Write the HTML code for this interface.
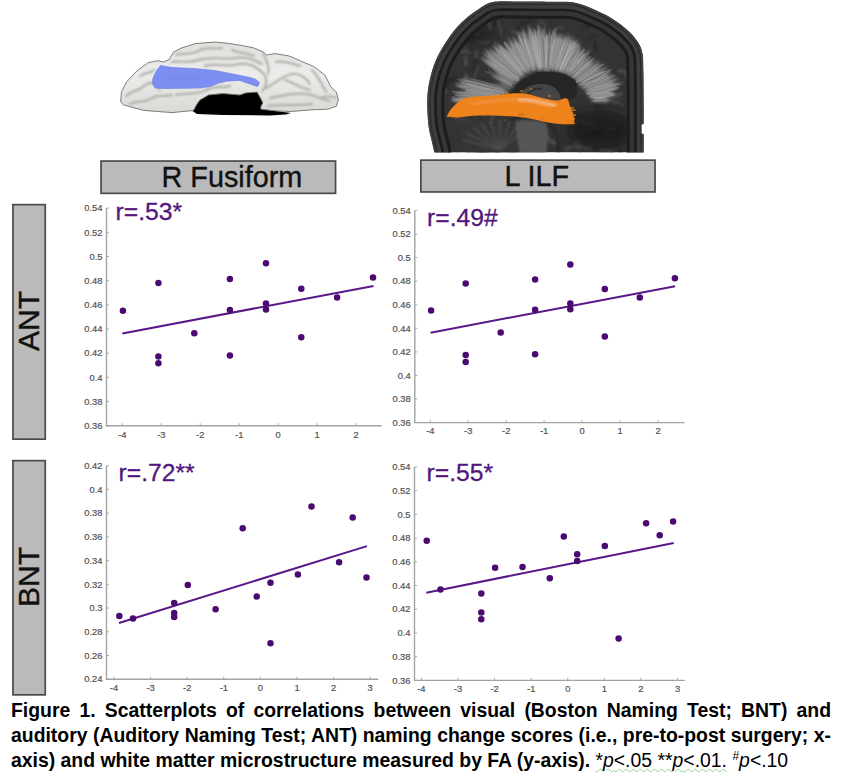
<!DOCTYPE html>
<html><head><meta charset="utf-8">
<style>
html,body{margin:0;padding:0;background:#fff;}
body{width:841px;height:781px;position:relative;overflow:hidden;font-family:"Liberation Sans",sans-serif;}
.box{position:absolute;box-sizing:border-box;background:#bababa;border:2px solid #474747;}
.lab{position:absolute;font-size:29px;color:#111;white-space:nowrap;line-height:1;}
svg{position:absolute;left:0;top:0;}
.yl{font-size:9.4px;fill:#505050;stroke:#505050;stroke-width:0.18px;text-anchor:end;font-family:"Liberation Sans",sans-serif;}
.xl{font-size:9.4px;fill:#505050;stroke:#505050;stroke-width:0.18px;text-anchor:middle;font-family:"Liberation Sans",sans-serif;}
.rl{font-size:24.7px;fill:#52167d;stroke:#52167d;stroke-width:0.3px;font-family:"Liberation Sans",sans-serif;}
.cap{position:absolute;left:11px;width:820px;font-size:19.4px;font-weight:bold;color:#000;line-height:25px;white-space:nowrap;}
.j{text-align:justify;text-align-last:justify;}
.n{font-weight:normal;}
.wavy{text-decoration:underline wavy #8fcf8f;text-decoration-thickness:1px;text-underline-offset:1px;}
</style></head><body>
<svg width="841" height="781" viewBox="0 0 841 781" style="position:absolute;left:0;top:0">
<defs><filter id="bl1" x="-5%" y="-5%" width="110%" height="110%"><feGaussianBlur stdDeviation="0.45"/></filter><filter id="bl2" x="-10%" y="-10%" width="120%" height="120%"><feGaussianBlur stdDeviation="0.9"/></filter><linearGradient id="bg1" x1="0" y1="0" x2="0" y2="1"><stop offset="0" stop-color="#dfe0dc"/><stop offset="0.45" stop-color="#ecedea"/><stop offset="1" stop-color="#d9dad6"/></linearGradient></defs>
<g filter="url(#bl1)">
<path d="M192.5,111 L196,103 L199,98 L208,93 L222.8,91.6 L240,93 L245.7,90.9 L258,90.1 L262,96.1 L264.5,102.9 L262.5,107 L268.5,110 L291,113 L286,114.5 L270,115.5 L222.8,115 L197,114 Z" fill="#050505"/>
<path d="M120.7,102.1 L121.4,92.1 L126.4,82.1 L136.4,71.4 L147.8,62.8 L157.8,60.7 L163.5,62 L169.2,59.5 L173.5,52.1 L182,47.8 L195,43.6 L215,42.1 L225,43 L239.3,45 L253.5,47.8 L263.5,52.1 L266.4,55 L275,53.6 L289.2,56 L300.6,61 L313.5,66.4 L324.9,75 L330.6,86.4 L336.3,92.1 L338.4,99.2 L336.3,106.3 L327.7,109.2 L310.6,109.9 L291,111.5 L275,110.8 L261,109.2 L260.7,107 L262.8,102.9 L260,97.1 L257,92.1 L245.7,92.9 L240,95 L222.8,93.6 L208.5,95 L200,100 L197,104 L193.5,110.5 L172,112.6 L143.5,110.4 L123.6,104.9 Z" fill="url(#bg1)" stroke="#6f716d" stroke-width="0.9"/>
<g filter="url(#bl2)">
<path d="M126,96 C132,90 138,92 144,86 C150,80 156,84 160,90" fill="none" stroke="#a9aba7" stroke-width="2" stroke-linecap="round"/>
<path d="M130,104 C138,100 146,103 152,98 C158,94 166,97 172,95" fill="none" stroke="#a9aba7" stroke-width="2" stroke-linecap="round"/>
<path d="M140,76 C146,72 150,74 154,70" fill="none" stroke="#a9aba7" stroke-width="2" stroke-linecap="round"/>
<path d="M176,95 C186,92 196,96 206,90 C214,86 222,88 230,86" fill="none" stroke="#a9aba7" stroke-width="2" stroke-linecap="round"/>
<path d="M176,55 C184,52 192,56 200,50 C206,46 214,50 222,48" fill="none" stroke="#a9aba7" stroke-width="2" stroke-linecap="round"/>
<path d="M172,62 C180,60 188,64 198,60 C210,56 224,60 236,58 C246,56 254,60 262,64" fill="none" stroke="#a9aba7" stroke-width="2" stroke-linecap="round"/>
<path d="M205,66 C214,62 226,68 240,64 C250,62 258,68 264,74 C268,80 266,88 262,91" fill="none" stroke="#a9aba7" stroke-width="2" stroke-linecap="round"/>
<path d="M263,53 C266,60 270,66 268,74" fill="none" stroke="#a9aba7" stroke-width="2" stroke-linecap="round"/>
<path d="M276,62 C284,60 292,64 300,66" fill="none" stroke="#a9aba7" stroke-width="2" stroke-linecap="round"/>
<path d="M266,88 C274,84 282,76 292,74 C300,73 306,78 310,84" fill="none" stroke="#a9aba7" stroke-width="2" stroke-linecap="round"/>
<path d="M270,98 C282,96 292,92 306,94 C316,95 322,100 330,101" fill="none" stroke="#a9aba7" stroke-width="2" stroke-linecap="round"/>
<path d="M285,80 C292,82 300,88 310,90" fill="none" stroke="#a9aba7" stroke-width="2" stroke-linecap="round"/>
<path d="M312,70 C318,76 322,84 326,92" fill="none" stroke="#a9aba7" stroke-width="2" stroke-linecap="round"/>
<path d="M320,98 C326,96 332,96 336,98" fill="none" stroke="#a9aba7" stroke-width="2" stroke-linecap="round"/>
<path d="M268,106 C282,104 296,106 312,104" fill="none" stroke="#a9aba7" stroke-width="2" stroke-linecap="round"/>
<path d="M196,80 C206,82 214,78 222,82" fill="none" stroke="#a9aba7" stroke-width="2" stroke-linecap="round"/>
<path d="M232,50 C240,54 246,52 254,56" fill="none" stroke="#a9aba7" stroke-width="2" stroke-linecap="round"/>
</g>
<path d="M152.1,82.5 L153.5,76.4 L157,70 L160.7,65.5 L172,67.5 L193.5,68.5 L215,70.5 L230,73.5 L240,75.5 L250,77.5 L256,79.5 L259.5,83 L257.5,86.5 L250,84 L240,80.5 L228,81 L220,82.5 L210,86.5 L200,88 L180,88.3 L165,88.5 L155,88 Z" fill="#7d8ef3" stroke="#6f7fe0" stroke-width="0.7"/>
<path d="M162,80 C175,78 190,80 205,78" fill="none" stroke="#7282e6" stroke-width="1.2" filter="url(#bl2)"/>
</g></svg>
<svg width="841" height="781" viewBox="0 0 841 781" style="position:absolute;left:0;top:0">
<defs><clipPath id="hc"><path d="M434.3,152.6 C434.0,151.1 433.2,147.7 432.3,143.4 C431.4,139.1 429.5,133.6 428.6,127.0 C427.8,120.4 427.2,111.2 427.2,104.0 C427.2,96.8 427.4,91.2 428.8,84.0 C430.2,76.8 432.5,68.2 435.5,61.0 C438.5,53.8 442.4,47.3 446.6,41.0 C450.9,34.7 455.8,28.2 461.0,23.0 C466.2,17.8 472.7,13.0 478.0,9.5 C483.3,6.0 486.0,3.3 493.0,2.0 C500.0,0.7 509.7,1.6 520.0,1.6 C530.3,1.6 546.0,1.7 555.0,1.8 C564.0,1.9 567.9,1.4 574.0,2.5 C580.1,3.6 585.1,5.5 591.4,8.2 C597.7,10.8 605.9,14.6 612.0,18.4 C618.1,22.1 623.9,26.6 628.3,30.7 C632.7,34.8 636.1,39.1 638.5,43.0 C640.9,46.9 641.8,49.5 642.6,54.0 C643.4,58.5 643.2,62.3 643.4,70.0 C643.6,77.7 643.7,95.0 643.7,100.0 L643.7,124 L641.5,124.5 L641.5,133.5 L643.7,134 L643.7,152.6 Z"/></clipPath><filter id="mb" x="-10%" y="-10%" width="120%" height="120%"><feGaussianBlur stdDeviation="0.5"/></filter><filter id="mb1" x="-10%" y="-10%" width="120%" height="120%"><feGaussianBlur stdDeviation="0.9"/></filter><filter id="mbig" x="-50%" y="-50%" width="200%" height="200%"><feGaussianBlur stdDeviation="6"/></filter><filter id="mb2" x="-10%" y="-10%" width="120%" height="120%"><feGaussianBlur stdDeviation="1.6"/></filter></defs>
<g clip-path="url(#hc)">
<path d="M434.3,152.6 C434.0,151.1 433.2,147.7 432.3,143.4 C431.4,139.1 429.5,133.6 428.6,127.0 C427.8,120.4 427.2,111.2 427.2,104.0 C427.2,96.8 427.4,91.2 428.8,84.0 C430.2,76.8 432.5,68.2 435.5,61.0 C438.5,53.8 442.4,47.3 446.6,41.0 C450.9,34.7 455.8,28.2 461.0,23.0 C466.2,17.8 472.7,13.0 478.0,9.5 C483.3,6.0 486.0,3.3 493.0,2.0 C500.0,0.7 509.7,1.6 520.0,1.6 C530.3,1.6 546.0,1.7 555.0,1.8 C564.0,1.9 567.9,1.4 574.0,2.5 C580.1,3.6 585.1,5.5 591.4,8.2 C597.7,10.8 605.9,14.6 612.0,18.4 C618.1,22.1 623.9,26.6 628.3,30.7 C632.7,34.8 636.1,39.1 638.5,43.0 C640.9,46.9 641.8,49.5 642.6,54.0 C643.4,58.5 643.2,62.3 643.4,70.0 C643.6,77.7 643.7,95.0 643.7,100.0 L643.7,124 L641.5,124.5 L641.5,133.5 L643.7,134 L643.7,152.6 Z" fill="#333333"/>
<g filter="url(#mb1)"><path d="M529.4,94.7 Q530.3,103.1 531.0,109.8" stroke="#262626" stroke-width="3.1" fill="none" stroke-linecap="round"/><path d="M534.1,102.1 Q531.2,106.4 535.4,109.9" stroke="#222222" stroke-width="2.7" fill="none" stroke-linecap="round"/><path d="M518.0,80.1 Q516.2,89.3 511.9,92.0" stroke="#222222" stroke-width="1.6" fill="none" stroke-linecap="round"/><path d="M476.4,51.1 Q476.2,57.7 477.1,57.4" stroke="#505050" stroke-width="2.0" fill="none" stroke-linecap="round"/><path d="M497.4,18.6 Q494.9,22.2 494.2,24.7" stroke="#222222" stroke-width="2.9" fill="none" stroke-linecap="round"/><path d="M501.7,49.5 Q508.7,49.4 510.4,51.4" stroke="#2a2a2a" stroke-width="2.3" fill="none" stroke-linecap="round"/><path d="M631.5,134.1 Q638.0,135.6 636.3,137.8" stroke="#4a4a4a" stroke-width="2.3" fill="none" stroke-linecap="round"/><path d="M552.4,45.2 Q553.6,45.9 558.6,56.3" stroke="#4a4a4a" stroke-width="3.0" fill="none" stroke-linecap="round"/><path d="M461.8,51.8 Q468.2,49.2 468.7,53.1" stroke="#505050" stroke-width="1.9" fill="none" stroke-linecap="round"/><path d="M540.8,153.0 Q541.3,158.6 544.2,166.2" stroke="#262626" stroke-width="1.5" fill="none" stroke-linecap="round"/><path d="M612.6,151.6 Q601.8,148.5 600.7,151.6" stroke="#505050" stroke-width="2.8" fill="none" stroke-linecap="round"/><path d="M458.3,153.5 Q463.8,154.8 463.9,159.4" stroke="#2a2a2a" stroke-width="2.3" fill="none" stroke-linecap="round"/><path d="M453.0,46.6 Q457.9,48.1 465.4,47.2" stroke="#262626" stroke-width="3.4" fill="none" stroke-linecap="round"/><path d="M535.7,96.7 Q538.4,104.8 548.0,104.7" stroke="#505050" stroke-width="2.0" fill="none" stroke-linecap="round"/><path d="M476.3,119.3 Q487.1,127.6 488.9,128.2" stroke="#505050" stroke-width="1.7" fill="none" stroke-linecap="round"/><path d="M447.6,32.9 Q453.8,35.9 455.3,40.9" stroke="#4a4a4a" stroke-width="3.1" fill="none" stroke-linecap="round"/><path d="M558.5,58.2 Q551.7,58.5 553.5,64.2" stroke="#505050" stroke-width="2.8" fill="none" stroke-linecap="round"/><path d="M562.4,28.2 Q561.0,24.9 554.6,30.3" stroke="#4a4a4a" stroke-width="2.4" fill="none" stroke-linecap="round"/><path d="M450.2,42.1 Q445.4,45.5 448.0,51.6" stroke="#4a4a4a" stroke-width="3.5" fill="none" stroke-linecap="round"/><path d="M570.7,112.7 Q571.4,110.4 581.4,117.8" stroke="#2a2a2a" stroke-width="2.9" fill="none" stroke-linecap="round"/><path d="M632.5,20.9 Q635.1,25.3 633.2,33.3" stroke="#222222" stroke-width="1.7" fill="none" stroke-linecap="round"/><path d="M548.3,119.0 Q545.3,127.4 538.1,130.0" stroke="#2a2a2a" stroke-width="2.2" fill="none" stroke-linecap="round"/><path d="M576.4,141.4 Q581.2,152.2 580.2,155.6" stroke="#505050" stroke-width="1.5" fill="none" stroke-linecap="round"/><path d="M571.8,69.9 Q570.7,66.8 577.7,71.3" stroke="#2a2a2a" stroke-width="3.3" fill="none" stroke-linecap="round"/><path d="M585.1,71.2 Q582.8,81.1 581.7,84.1" stroke="#222222" stroke-width="2.5" fill="none" stroke-linecap="round"/><path d="M541.9,60.5 Q549.9,56.9 548.8,61.0" stroke="#505050" stroke-width="2.8" fill="none" stroke-linecap="round"/><path d="M536.2,140.8 Q541.7,143.1 544.9,145.0" stroke="#2a2a2a" stroke-width="2.8" fill="none" stroke-linecap="round"/><path d="M527.3,140.2 Q521.9,143.5 522.7,148.2" stroke="#262626" stroke-width="3.3" fill="none" stroke-linecap="round"/><path d="M515.7,97.9 Q519.8,103.2 524.0,101.7" stroke="#222222" stroke-width="2.9" fill="none" stroke-linecap="round"/><path d="M629.9,55.9 Q628.2,56.9 631.1,63.5" stroke="#4a4a4a" stroke-width="2.3" fill="none" stroke-linecap="round"/><path d="M543.0,110.1 Q538.5,111.4 531.5,116.4" stroke="#222222" stroke-width="2.1" fill="none" stroke-linecap="round"/><path d="M560.7,110.9 Q564.2,115.5 564.6,118.8" stroke="#262626" stroke-width="2.3" fill="none" stroke-linecap="round"/><path d="M476.4,123.4 Q476.0,131.0 469.7,128.9" stroke="#222222" stroke-width="2.4" fill="none" stroke-linecap="round"/><path d="M565.3,107.7 Q560.1,105.7 551.3,109.6" stroke="#4a4a4a" stroke-width="2.0" fill="none" stroke-linecap="round"/><path d="M582.3,121.4 Q585.2,124.9 593.5,122.7" stroke="#505050" stroke-width="2.9" fill="none" stroke-linecap="round"/><path d="M543.1,102.2 Q548.3,112.6 547.6,115.0" stroke="#222222" stroke-width="2.3" fill="none" stroke-linecap="round"/><path d="M618.3,71.2 Q626.5,69.3 626.9,77.2" stroke="#505050" stroke-width="2.6" fill="none" stroke-linecap="round"/><path d="M615.6,127.2 Q618.0,131.9 617.4,142.5" stroke="#222222" stroke-width="1.9" fill="none" stroke-linecap="round"/><path d="M619.8,152.3 Q621.8,158.4 618.0,168.0" stroke="#222222" stroke-width="2.2" fill="none" stroke-linecap="round"/><path d="M454.7,78.4 Q450.3,77.5 446.1,86.1" stroke="#222222" stroke-width="2.4" fill="none" stroke-linecap="round"/><path d="M445.1,91.0 Q438.6,97.7 432.7,94.4" stroke="#505050" stroke-width="3.2" fill="none" stroke-linecap="round"/><path d="M577.3,147.6 Q567.7,145.7 566.5,149.3" stroke="#505050" stroke-width="2.6" fill="none" stroke-linecap="round"/><path d="M605.9,94.9 Q609.8,96.3 605.6,102.6" stroke="#4a4a4a" stroke-width="3.4" fill="none" stroke-linecap="round"/><path d="M613.8,101.5 Q618.3,101.2 621.9,105.4" stroke="#4a4a4a" stroke-width="1.9" fill="none" stroke-linecap="round"/><path d="M546.3,86.9 Q556.9,87.6 558.3,88.0" stroke="#4a4a4a" stroke-width="2.6" fill="none" stroke-linecap="round"/><path d="M637.9,34.7 Q645.2,36.0 643.9,38.2" stroke="#4a4a4a" stroke-width="2.0" fill="none" stroke-linecap="round"/><path d="M533.6,35.4 Q533.3,38.0 524.9,41.1" stroke="#2a2a2a" stroke-width="1.7" fill="none" stroke-linecap="round"/><path d="M522.7,22.0 Q525.0,20.8 517.6,29.0" stroke="#262626" stroke-width="2.0" fill="none" stroke-linecap="round"/><path d="M576.8,62.1 Q571.1,68.9 573.3,71.0" stroke="#222222" stroke-width="3.2" fill="none" stroke-linecap="round"/><path d="M564.0,116.3 Q553.1,120.1 551.9,121.2" stroke="#505050" stroke-width="2.7" fill="none" stroke-linecap="round"/><path d="M546.7,136.3 Q548.3,140.4 555.5,143.5" stroke="#505050" stroke-width="3.2" fill="none" stroke-linecap="round"/><path d="M485.0,119.5 Q476.4,119.8 471.5,123.7" stroke="#262626" stroke-width="1.9" fill="none" stroke-linecap="round"/><path d="M639.7,139.6 Q644.6,139.7 645.0,144.6" stroke="#222222" stroke-width="2.4" fill="none" stroke-linecap="round"/><path d="M628.1,92.4 Q634.7,99.3 638.7,100.1" stroke="#222222" stroke-width="1.9" fill="none" stroke-linecap="round"/><path d="M575.8,142.9 Q583.2,148.2 590.5,148.4" stroke="#505050" stroke-width="3.5" fill="none" stroke-linecap="round"/><path d="M606.3,128.0 Q614.3,129.5 617.0,128.8" stroke="#505050" stroke-width="2.5" fill="none" stroke-linecap="round"/><path d="M476.3,33.7 Q477.5,37.3 483.1,37.4" stroke="#505050" stroke-width="1.6" fill="none" stroke-linecap="round"/><path d="M630.2,81.3 Q633.4,87.3 637.3,93.0" stroke="#4a4a4a" stroke-width="1.9" fill="none" stroke-linecap="round"/><path d="M513.4,104.9 Q515.0,105.3 518.6,108.6" stroke="#2a2a2a" stroke-width="2.3" fill="none" stroke-linecap="round"/><path d="M477.4,40.6 Q486.9,43.9 488.5,41.2" stroke="#4a4a4a" stroke-width="2.6" fill="none" stroke-linecap="round"/><path d="M476.6,98.1 Q470.9,97.4 469.7,104.5" stroke="#262626" stroke-width="3.1" fill="none" stroke-linecap="round"/><path d="M519.9,140.8 Q518.4,149.5 511.4,152.9" stroke="#4a4a4a" stroke-width="1.9" fill="none" stroke-linecap="round"/><path d="M475.3,127.2 Q483.5,133.5 483.9,130.0" stroke="#505050" stroke-width="1.6" fill="none" stroke-linecap="round"/><path d="M493.1,149.7 Q495.7,149.4 500.1,155.4" stroke="#222222" stroke-width="2.3" fill="none" stroke-linecap="round"/><path d="M640.0,106.0 Q640.0,105.6 630.4,114.8" stroke="#505050" stroke-width="1.7" fill="none" stroke-linecap="round"/><path d="M485.9,78.8 Q483.3,77.7 477.8,86.3" stroke="#2a2a2a" stroke-width="2.0" fill="none" stroke-linecap="round"/><path d="M620.9,93.4 Q616.1,98.9 609.9,94.5" stroke="#4a4a4a" stroke-width="3.1" fill="none" stroke-linecap="round"/><path d="M453.4,99.9 Q464.4,97.4 466.8,101.8" stroke="#4a4a4a" stroke-width="3.4" fill="none" stroke-linecap="round"/><path d="M610.8,92.2 Q612.1,95.9 613.5,103.9" stroke="#4a4a4a" stroke-width="2.7" fill="none" stroke-linecap="round"/><path d="M511.8,57.1 Q508.5,65.5 509.5,69.5" stroke="#2a2a2a" stroke-width="1.6" fill="none" stroke-linecap="round"/><path d="M594.0,98.3 Q597.6,99.7 597.5,110.1" stroke="#2a2a2a" stroke-width="3.0" fill="none" stroke-linecap="round"/><path d="M448.1,153.5 Q459.7,154.5 463.2,157.0" stroke="#4a4a4a" stroke-width="2.0" fill="none" stroke-linecap="round"/><path d="M590.6,24.2 Q591.8,22.6 584.8,28.1" stroke="#262626" stroke-width="2.7" fill="none" stroke-linecap="round"/><path d="M461.2,103.5 Q461.0,107.0 469.7,109.8" stroke="#222222" stroke-width="2.2" fill="none" stroke-linecap="round"/><path d="M466.2,75.1 Q465.5,79.2 461.1,86.0" stroke="#505050" stroke-width="3.1" fill="none" stroke-linecap="round"/><path d="M465.7,57.7 Q465.9,59.5 466.1,65.0" stroke="#505050" stroke-width="2.7" fill="none" stroke-linecap="round"/><path d="M510.6,55.2 Q510.2,62.8 508.0,67.8" stroke="#262626" stroke-width="1.9" fill="none" stroke-linecap="round"/><path d="M488.3,152.2 Q476.6,150.6 474.2,157.9" stroke="#2a2a2a" stroke-width="2.0" fill="none" stroke-linecap="round"/><path d="M443.4,23.2 Q448.6,30.5 448.7,29.5" stroke="#262626" stroke-width="2.6" fill="none" stroke-linecap="round"/><path d="M565.5,69.1 Q568.2,74.9 574.0,75.8" stroke="#222222" stroke-width="3.1" fill="none" stroke-linecap="round"/><path d="M528.4,130.6 Q522.4,137.9 517.6,140.2" stroke="#4a4a4a" stroke-width="3.1" fill="none" stroke-linecap="round"/><path d="M512.5,107.6 Q517.2,116.8 520.8,121.1" stroke="#262626" stroke-width="2.4" fill="none" stroke-linecap="round"/><path d="M512.6,31.3 Q515.6,33.7 526.9,34.9" stroke="#4a4a4a" stroke-width="3.1" fill="none" stroke-linecap="round"/><path d="M531.6,130.8 Q537.4,134.4 535.1,135.9" stroke="#2a2a2a" stroke-width="2.5" fill="none" stroke-linecap="round"/><path d="M592.4,62.9 Q599.7,65.9 603.8,72.3" stroke="#222222" stroke-width="2.1" fill="none" stroke-linecap="round"/><path d="M527.1,99.5 Q520.7,106.0 518.7,112.0" stroke="#2a2a2a" stroke-width="2.4" fill="none" stroke-linecap="round"/><path d="M482.7,150.6 Q478.2,160.5 482.0,163.9" stroke="#222222" stroke-width="2.2" fill="none" stroke-linecap="round"/><path d="M517.9,71.1 Q520.1,75.4 516.3,78.9" stroke="#505050" stroke-width="2.6" fill="none" stroke-linecap="round"/><path d="M473.7,122.0 Q473.6,127.9 483.1,133.4" stroke="#505050" stroke-width="1.8" fill="none" stroke-linecap="round"/><path d="M497.8,21.1 Q500.3,26.1 501.2,35.1" stroke="#505050" stroke-width="1.7" fill="none" stroke-linecap="round"/><path d="M454.5,119.0 Q463.1,117.4 469.0,122.9" stroke="#4a4a4a" stroke-width="2.0" fill="none" stroke-linecap="round"/><path d="M482.5,122.9 Q477.3,125.0 474.2,130.4" stroke="#2a2a2a" stroke-width="2.8" fill="none" stroke-linecap="round"/><path d="M537.7,91.6 Q537.9,96.0 529.7,102.1" stroke="#2a2a2a" stroke-width="3.2" fill="none" stroke-linecap="round"/><path d="M600.8,132.2 Q594.8,133.5 586.0,134.2" stroke="#222222" stroke-width="3.1" fill="none" stroke-linecap="round"/><path d="M523.2,75.6 Q525.5,77.1 518.0,81.0" stroke="#262626" stroke-width="2.1" fill="none" stroke-linecap="round"/><path d="M516.6,90.5 Q512.3,94.3 508.5,93.5" stroke="#2a2a2a" stroke-width="2.8" fill="none" stroke-linecap="round"/><path d="M594.7,42.6 Q596.0,50.0 595.6,49.2" stroke="#222222" stroke-width="2.1" fill="none" stroke-linecap="round"/><path d="M477.9,67.2 Q475.8,73.0 474.2,78.5" stroke="#4a4a4a" stroke-width="1.9" fill="none" stroke-linecap="round"/><path d="M494.8,41.6 Q499.0,50.4 502.3,52.9" stroke="#4a4a4a" stroke-width="3.2" fill="none" stroke-linecap="round"/><path d="M535.9,73.2 Q534.9,75.9 528.4,86.8" stroke="#262626" stroke-width="2.3" fill="none" stroke-linecap="round"/><path d="M481.9,36.4 Q477.9,39.7 468.0,37.5" stroke="#222222" stroke-width="2.8" fill="none" stroke-linecap="round"/><path d="M486.0,19.5 Q491.1,26.6 490.2,29.4" stroke="#505050" stroke-width="3.2" fill="none" stroke-linecap="round"/><path d="M522.0,123.8 Q521.5,121.1 514.8,125.9" stroke="#505050" stroke-width="2.0" fill="none" stroke-linecap="round"/><path d="M546.0,38.6 Q556.1,42.1 559.7,38.7" stroke="#262626" stroke-width="1.7" fill="none" stroke-linecap="round"/><path d="M492.5,116.2 Q492.4,124.2 493.0,123.1" stroke="#505050" stroke-width="2.6" fill="none" stroke-linecap="round"/><path d="M540.2,20.6 Q545.3,25.7 546.7,25.1" stroke="#4a4a4a" stroke-width="1.9" fill="none" stroke-linecap="round"/><path d="M547.8,90.0 Q542.6,90.0 541.2,93.8" stroke="#222222" stroke-width="2.6" fill="none" stroke-linecap="round"/><path d="M639.4,109.4 Q639.1,111.8 645.9,110.9" stroke="#4a4a4a" stroke-width="3.0" fill="none" stroke-linecap="round"/><path d="M596.5,34.7 Q593.8,36.6 586.9,39.0" stroke="#2a2a2a" stroke-width="2.6" fill="none" stroke-linecap="round"/><path d="M530.5,19.4 Q521.2,25.3 517.7,28.8" stroke="#2a2a2a" stroke-width="2.8" fill="none" stroke-linecap="round"/><path d="M627.4,120.7 Q622.3,122.0 616.2,131.5" stroke="#262626" stroke-width="1.9" fill="none" stroke-linecap="round"/><path d="M585.8,63.1 Q586.5,69.0 582.7,78.3" stroke="#4a4a4a" stroke-width="1.7" fill="none" stroke-linecap="round"/><path d="M466.4,30.9 Q459.4,35.0 458.7,41.1" stroke="#4a4a4a" stroke-width="2.7" fill="none" stroke-linecap="round"/><path d="M456.2,49.0 Q458.8,46.2 463.2,51.9" stroke="#4a4a4a" stroke-width="3.4" fill="none" stroke-linecap="round"/><path d="M466.1,46.1 Q463.8,53.4 461.9,52.3" stroke="#505050" stroke-width="1.5" fill="none" stroke-linecap="round"/><path d="M518.9,113.9 Q514.3,119.8 506.5,123.6" stroke="#222222" stroke-width="2.0" fill="none" stroke-linecap="round"/><path d="M476.1,60.0 Q472.2,63.5 474.3,70.3" stroke="#2a2a2a" stroke-width="3.2" fill="none" stroke-linecap="round"/><path d="M561.5,39.7 Q555.5,40.3 548.5,43.8" stroke="#505050" stroke-width="2.5" fill="none" stroke-linecap="round"/><path d="M554.0,45.1 Q548.4,49.5 538.6,45.2" stroke="#505050" stroke-width="3.4" fill="none" stroke-linecap="round"/><path d="M564.7,45.1 Q567.9,49.5 569.6,49.9" stroke="#2a2a2a" stroke-width="1.7" fill="none" stroke-linecap="round"/></g>
<ellipse cx="600" cy="130" rx="34" ry="20" fill="#161616" opacity="0.7" filter="url(#mbig)"/>
<ellipse cx="470" cy="32" rx="26" ry="12" fill="#161616" opacity="0.5" filter="url(#mbig)"/>
<g filter="url(#mb1)">
<path d="M458,122 C470,120 500,119 516,121 L520,153 L466,153 C462,145 458,132 458,122 Z" fill="#363636"/>
<path d="M500,150 L462.4,139.7" stroke="#4c4c4c" stroke-width="1.6" fill="none"/>
<path d="M500,150 L466.8,133.2" stroke="#4c4c4c" stroke-width="1.6" fill="none"/>
<path d="M500,150 L473.2,127.7" stroke="#4c4c4c" stroke-width="1.6" fill="none"/>
<path d="M500,150 L481.2,123.5" stroke="#4c4c4c" stroke-width="1.6" fill="none"/>
<path d="M500,150 L490.3,120.9" stroke="#4c4c4c" stroke-width="1.6" fill="none"/>
<path d="M500,150 L500.0,120.0" stroke="#4c4c4c" stroke-width="1.6" fill="none"/>
<path d="M500,150 L509.7,120.9" stroke="#4c4c4c" stroke-width="1.6" fill="none"/>
<path d="M500,150 L518.8,123.5" stroke="#4c4c4c" stroke-width="1.6" fill="none"/>
<path d="M500,150 L526.8,127.7" stroke="#4c4c4c" stroke-width="1.6" fill="none"/>
<path d="M516,121 C525,119 540,121 546,123 C549,133 548,145 546,153 L520,153 C517,140 516,130 516,121 Z" fill="#575757"/>
<path d="M548,123 C556,130 560,140 558,153" stroke="#262626" stroke-width="3" fill="none"/>
</g>
<g filter="url(#mb)"><path d="M434.3,170.0 C434.3,167.1 434.6,157.0 434.3,152.6 C434.0,148.2 433.2,147.7 432.3,143.4 C431.4,139.1 429.5,133.6 428.6,127.0 C427.8,120.4 427.2,111.2 427.2,104.0 C427.2,96.8 427.4,91.2 428.8,84.0 C430.2,76.8 432.5,68.2 435.5,61.0 C438.5,53.8 442.4,47.3 446.6,41.0 C450.9,34.7 455.8,28.2 461.0,23.0 C466.2,17.8 472.7,13.0 478.0,9.5 C483.3,6.0 486.0,3.3 493.0,2.0 C500.0,0.7 509.7,1.6 520.0,1.6 C530.3,1.6 546.0,1.7 555.0,1.8 C564.0,1.9 567.9,1.4 574.0,2.5 C580.1,3.6 585.1,5.5 591.4,8.2 C597.7,10.8 605.9,14.6 612.0,18.4 C618.1,22.1 623.9,26.6 628.3,30.7 C632.7,34.8 636.1,39.1 638.5,43.0 C640.9,46.9 641.8,49.5 642.6,54.0 C643.4,58.5 643.2,62.3 643.4,70.0 C643.6,77.7 643.7,83.3 643.7,100.0 C643.8,116.7 643.7,158.3 643.7,170.0" fill="none" stroke="#1c1c1c" stroke-width="34"/><path d="M434.3,170.0 C434.3,167.1 434.6,157.0 434.3,152.6 C434.0,148.2 433.2,147.7 432.3,143.4 C431.4,139.1 429.5,133.6 428.6,127.0 C427.8,120.4 427.2,111.2 427.2,104.0 C427.2,96.8 427.4,91.2 428.8,84.0 C430.2,76.8 432.5,68.2 435.5,61.0 C438.5,53.8 442.4,47.3 446.6,41.0 C450.9,34.7 455.8,28.2 461.0,23.0 C466.2,17.8 472.7,13.0 478.0,9.5 C483.3,6.0 486.0,3.3 493.0,2.0 C500.0,0.7 509.7,1.6 520.0,1.6 C530.3,1.6 546.0,1.7 555.0,1.8 C564.0,1.9 567.9,1.4 574.0,2.5 C580.1,3.6 585.1,5.5 591.4,8.2 C597.7,10.8 605.9,14.6 612.0,18.4 C618.1,22.1 623.9,26.6 628.3,30.7 C632.7,34.8 636.1,39.1 638.5,43.0 C640.9,46.9 641.8,49.5 642.6,54.0 C643.4,58.5 643.2,62.3 643.4,70.0 C643.6,77.7 643.7,83.3 643.7,100.0 C643.8,116.7 643.7,158.3 643.7,170.0" fill="none" stroke="#353535" stroke-width="28"/><path d="M434.3,170.0 C434.3,167.1 434.6,157.0 434.3,152.6 C434.0,148.2 433.2,147.7 432.3,143.4 C431.4,139.1 429.5,133.6 428.6,127.0 C427.8,120.4 427.2,111.2 427.2,104.0 C427.2,96.8 427.4,91.2 428.8,84.0 C430.2,76.8 432.5,68.2 435.5,61.0 C438.5,53.8 442.4,47.3 446.6,41.0 C450.9,34.7 455.8,28.2 461.0,23.0 C466.2,17.8 472.7,13.0 478.0,9.5 C483.3,6.0 486.0,3.3 493.0,2.0 C500.0,0.7 509.7,1.6 520.0,1.6 C530.3,1.6 546.0,1.7 555.0,1.8 C564.0,1.9 567.9,1.4 574.0,2.5 C580.1,3.6 585.1,5.5 591.4,8.2 C597.7,10.8 605.9,14.6 612.0,18.4 C618.1,22.1 623.9,26.6 628.3,30.7 C632.7,34.8 636.1,39.1 638.5,43.0 C640.9,46.9 641.8,49.5 642.6,54.0 C643.4,58.5 643.2,62.3 643.4,70.0 C643.6,77.7 643.7,83.3 643.7,100.0 C643.8,116.7 643.7,158.3 643.7,170.0" fill="none" stroke="#1a1a1a" stroke-width="19"/><path d="M434.3,170.0 C434.3,167.1 434.6,157.0 434.3,152.6 C434.0,148.2 433.2,147.7 432.3,143.4 C431.4,139.1 429.5,133.6 428.6,127.0 C427.8,120.4 427.2,111.2 427.2,104.0 C427.2,96.8 427.4,91.2 428.8,84.0 C430.2,76.8 432.5,68.2 435.5,61.0 C438.5,53.8 442.4,47.3 446.6,41.0 C450.9,34.7 455.8,28.2 461.0,23.0 C466.2,17.8 472.7,13.0 478.0,9.5 C483.3,6.0 486.0,3.3 493.0,2.0 C500.0,0.7 509.7,1.6 520.0,1.6 C530.3,1.6 546.0,1.7 555.0,1.8 C564.0,1.9 567.9,1.4 574.0,2.5 C580.1,3.6 585.1,5.5 591.4,8.2 C597.7,10.8 605.9,14.6 612.0,18.4 C618.1,22.1 623.9,26.6 628.3,30.7 C632.7,34.8 636.1,39.1 638.5,43.0 C640.9,46.9 641.8,49.5 642.6,54.0 C643.4,58.5 643.2,62.3 643.4,70.0 C643.6,77.7 643.7,83.3 643.7,100.0 C643.8,116.7 643.7,158.3 643.7,170.0" fill="none" stroke="#3c3c3c" stroke-width="14"/><path d="M434.3,170.0 C434.3,167.1 434.6,157.0 434.3,152.6 C434.0,148.2 433.2,147.7 432.3,143.4 C431.4,139.1 429.5,133.6 428.6,127.0 C427.8,120.4 427.2,111.2 427.2,104.0 C427.2,96.8 427.4,91.2 428.8,84.0 C430.2,76.8 432.5,68.2 435.5,61.0 C438.5,53.8 442.4,47.3 446.6,41.0 C450.9,34.7 455.8,28.2 461.0,23.0 C466.2,17.8 472.7,13.0 478.0,9.5 C483.3,6.0 486.0,3.3 493.0,2.0 C500.0,0.7 509.7,1.6 520.0,1.6 C530.3,1.6 546.0,1.7 555.0,1.8 C564.0,1.9 567.9,1.4 574.0,2.5 C580.1,3.6 585.1,5.5 591.4,8.2 C597.7,10.8 605.9,14.6 612.0,18.4 C618.1,22.1 623.9,26.6 628.3,30.7 C632.7,34.8 636.1,39.1 638.5,43.0 C640.9,46.9 641.8,49.5 642.6,54.0 C643.4,58.5 643.2,62.3 643.4,70.0 C643.6,77.7 643.7,83.3 643.7,100.0 C643.8,116.7 643.7,158.3 643.7,170.0" fill="none" stroke="#2a2a2a" stroke-width="6.5"/><path d="M434.3,170.0 C434.3,167.1 434.6,157.0 434.3,152.6 C434.0,148.2 433.2,147.7 432.3,143.4 C431.4,139.1 429.5,133.6 428.6,127.0 C427.8,120.4 427.2,111.2 427.2,104.0 C427.2,96.8 427.4,91.2 428.8,84.0 C430.2,76.8 432.5,68.2 435.5,61.0 C438.5,53.8 442.4,47.3 446.6,41.0 C450.9,34.7 455.8,28.2 461.0,23.0 C466.2,17.8 472.7,13.0 478.0,9.5 C483.3,6.0 486.0,3.3 493.0,2.0 C500.0,0.7 509.7,1.6 520.0,1.6 C530.3,1.6 546.0,1.7 555.0,1.8 C564.0,1.9 567.9,1.4 574.0,2.5 C580.1,3.6 585.1,5.5 591.4,8.2 C597.7,10.8 605.9,14.6 612.0,18.4 C618.1,22.1 623.9,26.6 628.3,30.7 C632.7,34.8 636.1,39.1 638.5,43.0 C640.9,46.9 641.8,49.5 642.6,54.0 C643.4,58.5 643.2,62.3 643.4,70.0 C643.6,77.7 643.7,83.3 643.7,100.0 C643.8,116.7 643.7,158.3 643.7,170.0" fill="none" stroke="#404040" stroke-width="4"/></g>
</g>
<defs><filter id="fb" x="-20%" y="-20%" width="140%" height="140%"><feGaussianBlur stdDeviation="1.1"/></filter></defs>
<g filter="url(#fb)"><path d="M504.0,101.3 Q477.8,92.2 450.2,100.3 Q477.5,109.4 504.0,101.3 Z" fill="#9a9a9a" opacity="0.9"/><path d="M505.6,98.0 Q480.4,87.0 452.4,92.7 Q478.7,103.8 505.6,98.0 Z" fill="#7e7e7e" opacity="0.9"/><path d="M507.9,94.9 Q482.9,81.7 453.9,84.7 Q479.9,98.1 507.9,94.9 Z" fill="#929292" opacity="0.9"/><path d="M509.6,92.6 Q485.9,78.3 457.4,79.0 Q482.0,93.5 509.6,92.6 Z" fill="#929292" opacity="0.55"/><path d="M511.6,90.5 Q502.5,82.5 490.0,83.2 Q499.5,91.3 511.6,90.5 Z" fill="#888888" opacity="0.55"/><path d="M513.7,88.5 Q507.8,82.3 499.0,82.3 Q505.2,88.6 513.7,88.5 Z" fill="#888888" opacity="0.55"/><path d="M515.3,87.2 Q504.7,77.6 490.1,75.1 Q501.1,85.0 515.3,87.2 Z" fill="#9a9a9a" opacity="0.55"/><path d="M517.5,85.4 Q508.3,75.5 494.8,72.3 Q504.3,82.4 517.5,85.4 Z" fill="#9a9a9a" opacity="0.55"/><path d="M518.9,83.6 Q502.7,65.9 479.9,57.1 Q496.5,75.1 518.9,83.6 Z" fill="#9a9a9a" opacity="0.9"/><path d="M520.2,81.9 Q504.4,63.0 481.8,52.1 Q498.0,71.3 520.2,81.9 Z" fill="#929292" opacity="0.9"/><path d="M521.3,80.7 Q507.2,59.8 483.8,48.4 Q498.5,69.8 521.3,80.7 Z" fill="#888888" opacity="0.9"/><path d="M522.4,79.7 Q508.8,60.4 488.5,47.6 Q502.4,67.2 522.4,79.7 Z" fill="#929292" opacity="0.9"/><path d="M523.9,78.4 Q512.9,57.3 492.2,44.4 Q503.6,66.0 523.9,78.4 Z" fill="#9a9a9a" opacity="0.9"/><path d="M525.5,77.2 Q517.1,55.9 497.2,42.9 Q506.2,64.9 525.5,77.2 Z" fill="#9a9a9a" opacity="0.9"/><path d="M527.6,75.8 Q519.5,56.7 504.0,42.4 Q512.3,61.8 527.6,75.8 Z" fill="#929292" opacity="0.9"/><path d="M529.9,74.7 Q524.8,52.9 507.7,37.2 Q513.2,59.7 529.9,74.7 Z" fill="#929292" opacity="0.9"/><path d="M531.9,74.0 Q527.5,52.4 512.4,35.5 Q517.1,57.7 531.9,74.0 Z" fill="#9a9a9a" opacity="0.9"/><path d="M534.4,73.3 Q531.8,50.0 517.2,30.7 Q520.1,54.7 534.4,73.3 Z" fill="#929292" opacity="0.9"/><path d="M536.7,72.9 Q534.2,48.5 522.0,26.7 Q524.7,51.5 536.7,72.9 Z" fill="#9a9a9a" opacity="0.9"/><path d="M539.2,72.6 Q540.7,47.6 528.2,24.9 Q527.0,50.8 539.2,72.6 Z" fill="#9a9a9a" opacity="0.9"/><path d="M540.9,72.6 Q541.7,48.9 532.9,26.5 Q532.1,50.6 540.9,72.6 Z" fill="#929292" opacity="0.9"/><path d="M543.1,72.6 Q547.4,47.5 538.2,22.8 Q533.9,48.8 543.1,72.6 Z" fill="#929292" opacity="0.9"/><path d="M545.2,72.9 Q551.0,49.7 544.0,26.1 Q538.3,50.0 545.2,72.9 Z" fill="#888888" opacity="0.9"/><path d="M547.6,72.8 Q553.3,50.5 550.1,27.4 Q544.5,50.0 547.6,72.8 Z" fill="#7e7e7e" opacity="0.9"/><path d="M549.8,72.6 Q557.1,50.5 555.6,26.8 Q548.2,49.3 549.8,72.6 Z" fill="#9a9a9a" opacity="0.9"/><path d="M551.2,72.6 Q559.4,53.4 558.4,32.1 Q550.1,51.8 551.2,72.6 Z" fill="#929292" opacity="0.9"/><path d="M552.5,72.7 Q562.0,53.9 561.5,32.3 Q551.9,51.6 552.5,72.7 Z" fill="#9a9a9a" opacity="0.9"/><path d="M554.1,72.8 Q564.1,54.1 565.2,32.6 Q555.1,51.7 554.1,72.8 Z" fill="#929292" opacity="0.9"/><path d="M555.6,73.0 Q566.9,54.6 569.0,32.7 Q557.6,51.5 555.6,73.0 Z" fill="#9a9a9a" opacity="0.9"/><path d="M557.0,73.3 Q569.9,56.6 571.7,34.8 Q558.5,52.2 557.0,73.3 Z" fill="#888888" opacity="0.9"/><path d="M558.5,73.6 Q572.1,57.5 575.1,35.9 Q561.2,52.7 558.5,73.6 Z" fill="#7e7e7e" opacity="0.9"/><path d="M560.1,74.1 Q573.5,58.5 578.3,37.9 Q564.6,54.0 560.1,74.1 Z" fill="#9a9a9a" opacity="0.9"/><path d="M561.6,74.7 Q576.1,61.1 580.8,41.2 Q566.0,55.3 561.6,74.7 Z" fill="#888888" opacity="0.9"/><path d="M562.9,75.2 Q577.5,64.0 581.8,45.4 Q566.8,57.3 562.9,75.2 Z" fill="#7e7e7e" opacity="0.9"/><path d="M564.9,76.1 Q579.8,65.8 585.5,47.8 Q570.2,58.8 564.9,76.1 Z" fill="#929292" opacity="0.9"/><path d="M566.9,77.3 Q582.1,66.1 590.9,49.0 Q575.5,60.5 566.9,77.3 Z" fill="#9a9a9a" opacity="0.9"/><path d="M569.1,78.8 Q584.6,71.9 592.0,55.8 Q576.0,63.3 569.1,78.8 Z" fill="#7e7e7e" opacity="0.9"/><path d="M570.7,80.1 Q586.2,72.3 596.0,57.7 Q580.3,65.7 570.7,80.1 Z" fill="#888888" opacity="0.9"/><path d="M572.6,81.8 Q589.6,74.8 601.2,60.0 Q583.8,67.3 572.6,81.8 Z" fill="#7e7e7e" opacity="0.9"/><path d="M574.1,83.4 Q591.9,77.5 604.7,63.1 Q586.5,69.3 574.1,83.4 Z" fill="#888888" opacity="0.9"/><path d="M575.7,85.2 Q595.0,81.1 609.0,66.3 Q589.2,70.7 575.7,85.2 Z" fill="#7e7e7e" opacity="0.9"/><path d="M578.1,86.8 Q597.5,85.2 611.7,70.9 Q591.6,72.8 578.1,86.8 Z" fill="#7e7e7e" opacity="0.9"/><path d="M580.2,88.4 Q599.2,87.3 614.4,74.8 Q594.7,76.1 580.2,88.4 Z" fill="#929292" opacity="0.9"/><path d="M582.2,90.3 Q602.5,90.3 619.7,78.2 Q598.7,78.5 582.2,90.3 Z" fill="#888888" opacity="0.9"/><path d="M584.2,92.5 Q604.8,92.9 623.3,82.7 Q602.1,82.4 584.2,92.5 Z" fill="#929292" opacity="0.9"/><path d="M585.7,94.4 Q602.8,98.1 618.2,88.2 Q600.2,84.7 585.7,94.4 Z" fill="#888888" opacity="0.9"/><path d="M587.6,97.3 Q602.5,101.4 616.7,94.0 Q601.2,89.9 587.6,97.3 Z" fill="#9a9a9a" opacity="0.9"/><path d="M589.5,100.9 Q600.9,105.0 612.5,100.2 Q600.7,96.1 589.5,100.9 Z" fill="#7e7e7e" opacity="0.9"/></g>
<g filter="url(#mb)"><path d="M539.9,67.1 Q536.3,51.9 534.5,36.3" stroke="#b0b0b0" stroke-width="0.7" fill="none" opacity="0.55"/><path d="M544.2,68.2 Q542.2,48.7 542.2,29.1" stroke="#8e8e8e" stroke-width="0.7" fill="none" opacity="0.55"/><path d="M520.5,75.1 Q507.6,63.8 496.9,50.2" stroke="#b0b0b0" stroke-width="0.7" fill="none" opacity="0.55"/><path d="M535.0,70.5 Q528.0,54.9 523.7,38.2" stroke="#989898" stroke-width="0.7" fill="none" opacity="0.55"/><path d="M518.2,80.2 Q504.5,67.3 488.7,56.9" stroke="#8e8e8e" stroke-width="0.7" fill="none" opacity="0.55"/><path d="M535.4,70.3 Q528.3,56.3 525.6,40.8" stroke="#b0b0b0" stroke-width="0.7" fill="none" opacity="0.55"/><path d="M537.7,65.7 Q536.4,52.1 531.6,39.3" stroke="#b0b0b0" stroke-width="0.7" fill="none" opacity="0.55"/><path d="M533.6,66.8 Q527.3,52.5 523.4,37.5" stroke="#b0b0b0" stroke-width="0.7" fill="none" opacity="0.55"/><path d="M591.3,90.8 Q602.9,87.6 614.6,85.0" stroke="#989898" stroke-width="0.7" fill="none" opacity="0.55"/><path d="M571.4,78.0 Q581.2,71.8 588.0,62.4" stroke="#b8b8b8" stroke-width="0.7" fill="none" opacity="0.55"/><path d="M513.1,80.5 Q503.1,75.0 494.1,68.2" stroke="#8e8e8e" stroke-width="0.7" fill="none" opacity="0.55"/><path d="M577.2,82.8 Q587.0,75.7 597.8,70.2" stroke="#8e8e8e" stroke-width="0.7" fill="none" opacity="0.55"/><path d="M519.5,80.6 Q505.4,68.2 490.3,57.0" stroke="#a4a4a4" stroke-width="0.7" fill="none" opacity="0.55"/><path d="M522.5,69.9 Q514.6,61.5 508.9,51.4" stroke="#8e8e8e" stroke-width="0.7" fill="none" opacity="0.55"/><path d="M502.6,99.4 Q480.0,99.7 457.6,96.7" stroke="#b0b0b0" stroke-width="0.7" fill="none" opacity="0.55"/><path d="M593.3,100.7 Q597.8,102.8 602.2,100.4" stroke="#8e8e8e" stroke-width="0.7" fill="none" opacity="0.55"/><path d="M567.1,72.9 Q574.4,66.5 578.2,57.5" stroke="#989898" stroke-width="0.7" fill="none" opacity="0.55"/><path d="M517.8,75.6 Q508.1,64.6 496.5,55.6" stroke="#8e8e8e" stroke-width="0.7" fill="none" opacity="0.55"/><path d="M585.5,90.4 Q597.6,84.3 611.2,82.9" stroke="#8e8e8e" stroke-width="0.7" fill="none" opacity="0.55"/><path d="M573.1,79.4 Q582.0,68.7 594.2,61.8" stroke="#989898" stroke-width="0.7" fill="none" opacity="0.55"/><path d="M563.4,69.1 Q569.7,56.2 576.9,43.7" stroke="#a4a4a4" stroke-width="0.7" fill="none" opacity="0.55"/><path d="M549.9,68.9 Q552.7,50.5 554.2,32.0" stroke="#b0b0b0" stroke-width="0.7" fill="none" opacity="0.55"/><path d="M574.3,78.8 Q582.4,71.9 590.7,65.4" stroke="#a4a4a4" stroke-width="0.7" fill="none" opacity="0.55"/><path d="M548.0,69.0 Q547.7,51.3 550.2,33.7" stroke="#6c6c6c" stroke-width="0.7" fill="none" opacity="0.55"/><path d="M552.2,64.8 Q552.6,49.9 557.0,35.6" stroke="#a4a4a4" stroke-width="0.7" fill="none" opacity="0.55"/><path d="M541.8,68.7 Q541.1,54.2 538.2,39.9" stroke="#b8b8b8" stroke-width="0.7" fill="none" opacity="0.55"/><path d="M533.0,68.9 Q526.3,52.3 519.8,35.6" stroke="#8e8e8e" stroke-width="0.7" fill="none" opacity="0.55"/><path d="M503.9,91.0 Q484.9,85.1 465.5,81.0" stroke="#a4a4a4" stroke-width="0.7" fill="none" opacity="0.55"/><path d="M520.8,72.6 Q513.5,62.0 504.1,53.1" stroke="#b0b0b0" stroke-width="0.7" fill="none" opacity="0.55"/><path d="M591.6,98.3 Q599.3,100.0 606.7,97.1" stroke="#6c6c6c" stroke-width="0.7" fill="none" opacity="0.55"/><path d="M565.6,69.5 Q573.6,60.8 577.6,49.6" stroke="#6c6c6c" stroke-width="0.7" fill="none" opacity="0.55"/><path d="M534.4,68.8 Q529.6,55.1 524.9,41.3" stroke="#a4a4a4" stroke-width="0.7" fill="none" opacity="0.55"/><path d="M590.7,96.8 Q601.0,95.3 611.3,94.4" stroke="#a4a4a4" stroke-width="0.7" fill="none" opacity="0.55"/><path d="M544.2,67.9 Q543.6,52.0 542.5,36.0" stroke="#6c6c6c" stroke-width="0.7" fill="none" opacity="0.55"/><path d="M579.2,84.9 Q590.6,77.8 603.0,72.7" stroke="#6c6c6c" stroke-width="0.7" fill="none" opacity="0.55"/><path d="M582.3,84.8 Q594.8,81.3 605.5,73.8" stroke="#b8b8b8" stroke-width="0.7" fill="none" opacity="0.55"/><path d="M561.7,72.0 Q568.6,63.6 571.6,53.0" stroke="#989898" stroke-width="0.7" fill="none" opacity="0.55"/><path d="M547.6,71.7 Q547.4,51.5 549.8,31.3" stroke="#989898" stroke-width="0.7" fill="none" opacity="0.55"/><path d="M526.2,68.2 Q519.1,58.0 513.6,46.7" stroke="#989898" stroke-width="0.7" fill="none" opacity="0.55"/><path d="M585.5,85.4 Q595.9,79.3 607.7,76.2" stroke="#b8b8b8" stroke-width="0.7" fill="none" opacity="0.55"/><path d="M586.5,89.6 Q599.8,88.2 611.8,81.9" stroke="#6c6c6c" stroke-width="0.7" fill="none" opacity="0.55"/><path d="M506.2,92.6 Q483.2,85.1 459.2,81.4" stroke="#6c6c6c" stroke-width="0.7" fill="none" opacity="0.55"/><path d="M577.8,78.1 Q585.6,70.8 594.7,65.4" stroke="#8e8e8e" stroke-width="0.7" fill="none" opacity="0.55"/><path d="M585.6,89.5 Q599.3,87.3 611.8,81.2" stroke="#8e8e8e" stroke-width="0.7" fill="none" opacity="0.55"/><path d="M573.1,73.2 Q577.6,65.4 585.2,60.3" stroke="#6c6c6c" stroke-width="0.7" fill="none" opacity="0.55"/><path d="M586.6,85.3 Q601.0,80.8 614.3,73.8" stroke="#6c6c6c" stroke-width="0.7" fill="none" opacity="0.55"/><path d="M546.5,67.8 Q547.6,51.0 546.9,34.2" stroke="#b8b8b8" stroke-width="0.7" fill="none" opacity="0.55"/><path d="M585.4,92.3 Q598.7,89.7 611.5,85.8" stroke="#b8b8b8" stroke-width="0.7" fill="none" opacity="0.55"/><path d="M571.8,73.8 Q577.8,67.4 583.5,60.9" stroke="#8e8e8e" stroke-width="0.7" fill="none" opacity="0.55"/><path d="M564.3,68.0 Q567.3,60.2 572.1,53.4" stroke="#a4a4a4" stroke-width="0.7" fill="none" opacity="0.55"/><path d="M517.7,76.8 Q504.8,64.6 491.2,53.2" stroke="#6c6c6c" stroke-width="0.7" fill="none" opacity="0.55"/><path d="M586.4,93.2 Q599.9,90.5 613.2,87.3" stroke="#6c6c6c" stroke-width="0.7" fill="none" opacity="0.55"/><path d="M589.0,96.1 Q601.2,95.6 613.2,92.8" stroke="#b8b8b8" stroke-width="0.7" fill="none" opacity="0.55"/><path d="M548.6,71.6 Q551.3,53.0 551.7,34.2" stroke="#b8b8b8" stroke-width="0.7" fill="none" opacity="0.55"/><path d="M527.7,72.8 Q520.4,61.6 513.5,50.1" stroke="#6c6c6c" stroke-width="0.7" fill="none" opacity="0.55"/><path d="M594.3,100.6 Q600.3,98.9 606.5,100.3" stroke="#b0b0b0" stroke-width="0.7" fill="none" opacity="0.55"/><path d="M532.5,68.8 Q523.1,52.9 518.7,34.8" stroke="#b8b8b8" stroke-width="0.7" fill="none" opacity="0.55"/><path d="M568.9,76.6 Q574.3,68.5 581.8,62.2" stroke="#a4a4a4" stroke-width="0.7" fill="none" opacity="0.55"/><path d="M524.4,70.9 Q512.7,57.3 504.0,41.6" stroke="#a4a4a4" stroke-width="0.7" fill="none" opacity="0.55"/><path d="M564.5,69.6 Q572.3,58.1 578.2,45.5" stroke="#6c6c6c" stroke-width="0.7" fill="none" opacity="0.55"/><path d="M569.7,71.8 Q577.7,63.9 583.5,54.3" stroke="#a4a4a4" stroke-width="0.7" fill="none" opacity="0.55"/><path d="M561.4,68.3 Q566.4,54.2 573.8,41.0" stroke="#b0b0b0" stroke-width="0.7" fill="none" opacity="0.55"/><path d="M497.7,99.5 Q474.9,96.9 451.8,97.2" stroke="#6c6c6c" stroke-width="0.7" fill="none" opacity="0.55"/><path d="M544.7,67.1 Q543.5,53.3 543.6,39.5" stroke="#6c6c6c" stroke-width="0.7" fill="none" opacity="0.55"/><path d="M571.8,75.2 Q581.3,66.1 589.9,56.2" stroke="#989898" stroke-width="0.7" fill="none" opacity="0.55"/><path d="M531.9,70.3 Q526.2,53.3 517.3,37.6" stroke="#a4a4a4" stroke-width="0.7" fill="none" opacity="0.55"/><path d="M512.8,83.6 Q500.1,77.4 488.2,69.9" stroke="#b8b8b8" stroke-width="0.7" fill="none" opacity="0.55"/><path d="M518.1,81.5 Q502.5,71.1 488.0,59.3" stroke="#a4a4a4" stroke-width="0.7" fill="none" opacity="0.55"/><path d="M528.2,67.1 Q520.8,55.0 515.3,41.8" stroke="#a4a4a4" stroke-width="0.7" fill="none" opacity="0.55"/><path d="M569.3,75.4 Q575.8,66.9 583.4,59.4" stroke="#6c6c6c" stroke-width="0.7" fill="none" opacity="0.55"/><path d="M501.1,91.8 Q483.9,89.3 467.2,84.0" stroke="#b0b0b0" stroke-width="0.7" fill="none" opacity="0.55"/><path d="M561.5,69.6 Q568.3,56.5 574.2,43.0" stroke="#b0b0b0" stroke-width="0.7" fill="none" opacity="0.55"/><path d="M515.8,84.0 Q503.9,79.1 493.8,70.9" stroke="#989898" stroke-width="0.7" fill="none" opacity="0.55"/><path d="M568.4,73.9 Q575.3,63.0 584.4,53.7" stroke="#8e8e8e" stroke-width="0.7" fill="none" opacity="0.55"/><path d="M558.3,67.6 Q561.2,54.8 567.1,43.0" stroke="#a4a4a4" stroke-width="0.7" fill="none" opacity="0.55"/><path d="M552.5,65.9 Q553.0,51.4 557.7,37.7" stroke="#6c6c6c" stroke-width="0.7" fill="none" opacity="0.55"/><path d="M552.7,70.6 Q557.7,52.8 560.3,34.5" stroke="#8e8e8e" stroke-width="0.7" fill="none" opacity="0.55"/><path d="M582.2,83.9 Q593.5,79.9 603.5,73.2" stroke="#6c6c6c" stroke-width="0.7" fill="none" opacity="0.55"/><path d="M576.7,79.1 Q587.9,73.0 597.0,63.8" stroke="#b0b0b0" stroke-width="0.7" fill="none" opacity="0.55"/><path d="M585.9,91.3 Q598.9,84.9 613.6,83.9" stroke="#a4a4a4" stroke-width="0.7" fill="none" opacity="0.55"/><path d="M500.4,100.0 Q481.6,98.2 462.8,98.4" stroke="#8e8e8e" stroke-width="0.7" fill="none" opacity="0.55"/><path d="M556.1,71.7 Q560.3,56.8 566.0,42.4" stroke="#8e8e8e" stroke-width="0.7" fill="none" opacity="0.55"/><path d="M570.3,76.9 Q578.8,69.8 585.6,61.1" stroke="#6c6c6c" stroke-width="0.7" fill="none" opacity="0.55"/><path d="M537.7,65.2 Q533.2,53.5 532.3,40.9" stroke="#a4a4a4" stroke-width="0.7" fill="none" opacity="0.55"/><path d="M541.7,66.9 Q542.4,51.7 538.1,37.0" stroke="#8e8e8e" stroke-width="0.7" fill="none" opacity="0.55"/><path d="M566.3,71.7 Q572.4,65.1 576.2,56.9" stroke="#b8b8b8" stroke-width="0.7" fill="none" opacity="0.55"/><path d="M593.6,99.5 Q601.1,97.5 608.8,98.7" stroke="#989898" stroke-width="0.7" fill="none" opacity="0.55"/><path d="M546.5,69.8 Q545.9,51.6 547.1,33.4" stroke="#b0b0b0" stroke-width="0.7" fill="none" opacity="0.55"/><path d="M504.4,92.9 Q480.8,87.0 456.9,82.5" stroke="#8e8e8e" stroke-width="0.7" fill="none" opacity="0.55"/><path d="M593.1,97.7 Q599.5,97.8 605.8,96.6" stroke="#b8b8b8" stroke-width="0.7" fill="none" opacity="0.55"/><path d="M545.4,70.0 Q544.3,48.6 544.6,27.1" stroke="#6c6c6c" stroke-width="0.7" fill="none" opacity="0.55"/><path d="M560.9,71.3 Q568.9,57.1 575.2,42.0" stroke="#b0b0b0" stroke-width="0.7" fill="none" opacity="0.55"/><path d="M569.4,76.0 Q577.8,69.7 583.2,60.6" stroke="#a4a4a4" stroke-width="0.7" fill="none" opacity="0.55"/><path d="M540.9,66.9 Q540.9,52.4 536.8,38.4" stroke="#a4a4a4" stroke-width="0.7" fill="none" opacity="0.55"/><path d="M558.8,71.4 Q563.5,61.2 567.4,50.7" stroke="#b0b0b0" stroke-width="0.7" fill="none" opacity="0.55"/><path d="M556.0,69.8 Q558.1,55.3 564.6,42.0" stroke="#a4a4a4" stroke-width="0.7" fill="none" opacity="0.55"/><path d="M590.5,98.3 Q596.6,97.4 602.8,97.3" stroke="#8e8e8e" stroke-width="0.7" fill="none" opacity="0.55"/><path d="M500.5,99.4 Q475.9,96.0 450.9,96.6" stroke="#6c6c6c" stroke-width="0.7" fill="none" opacity="0.55"/><path d="M515.5,76.4 Q503.3,62.6 487.5,52.8" stroke="#6c6c6c" stroke-width="0.7" fill="none" opacity="0.55"/><path d="M504.5,94.5 Q484.5,89.9 464.0,87.1" stroke="#b0b0b0" stroke-width="0.7" fill="none" opacity="0.55"/><path d="M581.8,83.5 Q592.5,77.0 604.0,72.0" stroke="#a4a4a4" stroke-width="0.7" fill="none" opacity="0.55"/><path d="M533.9,70.0 Q526.9,54.8 522.1,38.9" stroke="#6c6c6c" stroke-width="0.7" fill="none" opacity="0.55"/><path d="M545.5,68.0 Q543.5,53.3 545.0,38.5" stroke="#989898" stroke-width="0.7" fill="none" opacity="0.55"/><path d="M521.0,75.6 Q508.2,64.8 498.1,51.4" stroke="#8e8e8e" stroke-width="0.7" fill="none" opacity="0.55"/><path d="M574.4,76.5 Q583.1,68.5 591.9,60.7" stroke="#b0b0b0" stroke-width="0.7" fill="none" opacity="0.55"/><path d="M543.1,68.5 Q544.0,52.4 540.2,36.6" stroke="#b0b0b0" stroke-width="0.7" fill="none" opacity="0.55"/><path d="M507.0,92.9 Q483.9,90.8 462.1,82.4" stroke="#989898" stroke-width="0.7" fill="none" opacity="0.55"/><path d="M533.6,71.1 Q526.9,55.2 520.7,39.1" stroke="#b0b0b0" stroke-width="0.7" fill="none" opacity="0.55"/><path d="M499.9,99.8 Q480.0,101.2 460.2,97.9" stroke="#989898" stroke-width="0.7" fill="none" opacity="0.55"/><path d="M518.8,80.5 Q507.1,68.5 492.7,59.8" stroke="#b8b8b8" stroke-width="0.7" fill="none" opacity="0.55"/><path d="M502.6,100.4 Q477.2,101.0 451.8,98.5" stroke="#b8b8b8" stroke-width="0.7" fill="none" opacity="0.55"/><path d="M544.2,69.3 Q545.8,53.3 542.5,37.4" stroke="#6c6c6c" stroke-width="0.7" fill="none" opacity="0.55"/><path d="M575.5,80.6 Q588.5,74.1 598.8,63.8" stroke="#8e8e8e" stroke-width="0.7" fill="none" opacity="0.55"/><path d="M552.7,66.4 Q558.0,50.6 558.8,33.8" stroke="#6c6c6c" stroke-width="0.7" fill="none" opacity="0.55"/><path d="M511.6,84.6 Q499.4,76.3 485.4,71.4" stroke="#b8b8b8" stroke-width="0.7" fill="none" opacity="0.55"/><path d="M577.2,81.9 Q589.7,70.8 605.0,64.0" stroke="#a4a4a4" stroke-width="0.7" fill="none" opacity="0.55"/><path d="M577.3,81.4 Q590.1,72.2 603.6,64.1" stroke="#6c6c6c" stroke-width="0.7" fill="none" opacity="0.55"/><path d="M592.0,90.7 Q600.8,87.8 610.1,86.3" stroke="#989898" stroke-width="0.7" fill="none" opacity="0.55"/><path d="M501.0,97.0 Q476.5,93.4 451.7,91.6" stroke="#b8b8b8" stroke-width="0.7" fill="none" opacity="0.55"/><path d="M523.3,70.3 Q512.6,56.9 503.3,42.4" stroke="#a4a4a4" stroke-width="0.7" fill="none" opacity="0.55"/><path d="M526.5,73.8 Q517.6,62.7 510.3,50.4" stroke="#6c6c6c" stroke-width="0.7" fill="none" opacity="0.55"/><path d="M589.7,95.6 Q600.0,95.0 610.1,92.6" stroke="#8e8e8e" stroke-width="0.7" fill="none" opacity="0.55"/><path d="M560.3,71.7 Q566.8,55.7 575.1,40.6" stroke="#989898" stroke-width="0.7" fill="none" opacity="0.55"/><path d="M521.4,71.4 Q512.6,57.6 500.9,45.9" stroke="#b0b0b0" stroke-width="0.7" fill="none" opacity="0.55"/><path d="M532.1,69.8 Q525.2,52.5 517.3,35.6" stroke="#6c6c6c" stroke-width="0.7" fill="none" opacity="0.55"/><path d="M580.1,86.2 Q591.4,80.9 602.8,75.7" stroke="#6c6c6c" stroke-width="0.7" fill="none" opacity="0.55"/><path d="M573.9,76.2 Q579.8,68.2 588.2,62.8" stroke="#b8b8b8" stroke-width="0.7" fill="none" opacity="0.55"/><path d="M505.8,95.3 Q482.1,89.4 457.7,87.2" stroke="#6c6c6c" stroke-width="0.7" fill="none" opacity="0.55"/><path d="M558.6,67.4 Q563.4,55.0 567.7,42.4" stroke="#b0b0b0" stroke-width="0.7" fill="none" opacity="0.55"/><path d="M559.8,70.6 Q564.7,57.2 571.2,44.5" stroke="#b8b8b8" stroke-width="0.7" fill="none" opacity="0.55"/><path d="M568.8,71.6 Q577.2,62.6 583.5,51.9" stroke="#6c6c6c" stroke-width="0.7" fill="none" opacity="0.55"/><path d="M559.7,68.7 Q566.0,54.8 571.3,40.4" stroke="#b8b8b8" stroke-width="0.7" fill="none" opacity="0.55"/><path d="M564.0,68.4 Q570.1,56.0 577.1,44.0" stroke="#8e8e8e" stroke-width="0.7" fill="none" opacity="0.55"/><path d="M529.3,70.5 Q521.2,58.7 515.9,45.4" stroke="#b0b0b0" stroke-width="0.7" fill="none" opacity="0.55"/><path d="M560.0,67.8 Q566.0,55.6 570.3,42.8" stroke="#b0b0b0" stroke-width="0.7" fill="none" opacity="0.55"/><path d="M529.2,72.8 Q523.5,59.6 515.0,48.0" stroke="#8e8e8e" stroke-width="0.7" fill="none" opacity="0.55"/><path d="M566.2,70.5 Q570.8,58.9 579.6,49.7" stroke="#b0b0b0" stroke-width="0.7" fill="none" opacity="0.55"/><path d="M500.4,100.2 Q476.4,100.3 452.4,98.2" stroke="#989898" stroke-width="0.7" fill="none" opacity="0.55"/><path d="M582.1,88.5 Q599.1,81.1 616.8,75.4" stroke="#989898" stroke-width="0.7" fill="none" opacity="0.55"/><path d="M504.5,92.3 Q482.5,87.2 460.6,82.1" stroke="#a4a4a4" stroke-width="0.7" fill="none" opacity="0.55"/><path d="M544.5,71.1 Q546.2,50.4 542.5,29.8" stroke="#989898" stroke-width="0.7" fill="none" opacity="0.55"/><path d="M524.0,70.4 Q513.4,56.9 504.4,42.2" stroke="#989898" stroke-width="0.7" fill="none" opacity="0.55"/><path d="M549.0,65.5 Q552.0,51.1 551.4,36.3" stroke="#b8b8b8" stroke-width="0.7" fill="none" opacity="0.55"/><path d="M508.9,83.9 Q500.9,80.2 492.9,76.1" stroke="#8e8e8e" stroke-width="0.7" fill="none" opacity="0.55"/><path d="M499.1,97.4 Q480.8,99.1 463.1,93.9" stroke="#8e8e8e" stroke-width="0.7" fill="none" opacity="0.55"/><path d="M583.9,85.8 Q595.0,83.5 604.4,77.0" stroke="#8e8e8e" stroke-width="0.7" fill="none" opacity="0.55"/><path d="M565.8,72.8 Q571.6,63.4 578.1,54.5" stroke="#6c6c6c" stroke-width="0.7" fill="none" opacity="0.55"/><path d="M588.2,94.0 Q600.5,91.4 612.9,89.4" stroke="#6c6c6c" stroke-width="0.7" fill="none" opacity="0.55"/><path d="M584.6,83.6 Q597.6,77.3 610.7,71.1" stroke="#a4a4a4" stroke-width="0.7" fill="none" opacity="0.55"/><path d="M501.2,97.1 Q480.2,95.5 459.3,92.5" stroke="#989898" stroke-width="0.7" fill="none" opacity="0.55"/><path d="M502.5,96.3 Q484.1,91.6 464.9,91.4" stroke="#b0b0b0" stroke-width="0.7" fill="none" opacity="0.55"/><path d="M520.5,73.4 Q511.5,63.6 502.7,53.5" stroke="#b0b0b0" stroke-width="0.7" fill="none" opacity="0.55"/><path d="M556.1,68.6 Q560.7,52.8 565.7,37.2" stroke="#b0b0b0" stroke-width="0.7" fill="none" opacity="0.55"/><path d="M557.3,70.2 Q561.3,58.5 565.6,47.0" stroke="#989898" stroke-width="0.7" fill="none" opacity="0.55"/><path d="M506.9,91.2 Q484.8,86.2 463.3,79.1" stroke="#8e8e8e" stroke-width="0.7" fill="none" opacity="0.55"/><path d="M502.9,94.0 Q481.1,92.7 460.1,86.0" stroke="#6c6c6c" stroke-width="0.7" fill="none" opacity="0.55"/><path d="M533.1,70.7 Q527.7,53.7 519.6,37.7" stroke="#b0b0b0" stroke-width="0.7" fill="none" opacity="0.55"/><path d="M553.5,68.4 Q556.8,55.1 559.5,41.6" stroke="#6c6c6c" stroke-width="0.7" fill="none" opacity="0.55"/><path d="M583.1,87.2 Q597.3,83.6 610.2,76.3" stroke="#6c6c6c" stroke-width="0.7" fill="none" opacity="0.55"/><path d="M541.1,68.8 Q540.8,53.1 536.4,37.8" stroke="#b8b8b8" stroke-width="0.7" fill="none" opacity="0.55"/><path d="M590.9,96.7 Q604.6,94.9 618.4,93.4" stroke="#8e8e8e" stroke-width="0.7" fill="none" opacity="0.55"/><path d="M547.2,71.8 Q545.5,53.7 548.6,35.6" stroke="#b0b0b0" stroke-width="0.7" fill="none" opacity="0.55"/><path d="M526.5,72.4 Q516.6,61.7 510.6,48.3" stroke="#989898" stroke-width="0.7" fill="none" opacity="0.55"/><path d="M559.5,70.7 Q564.8,57.2 571.0,44.0" stroke="#b8b8b8" stroke-width="0.7" fill="none" opacity="0.55"/><path d="M575.5,82.3 Q589.4,74.1 602.3,64.5" stroke="#b0b0b0" stroke-width="0.7" fill="none" opacity="0.55"/><path d="M575.8,77.9 Q585.0,67.3 597.3,60.5" stroke="#989898" stroke-width="0.7" fill="none" opacity="0.55"/><path d="M569.4,72.2 Q572.8,64.1 579.9,58.9" stroke="#b8b8b8" stroke-width="0.7" fill="none" opacity="0.55"/><path d="M563.7,72.1 Q570.1,58.2 579.1,45.9" stroke="#989898" stroke-width="0.7" fill="none" opacity="0.55"/><path d="M571.2,70.6 Q577.8,63.2 583.6,55.2" stroke="#b0b0b0" stroke-width="0.7" fill="none" opacity="0.55"/><path d="M540.0,65.2 Q540.0,48.5 534.7,32.6" stroke="#989898" stroke-width="0.7" fill="none" opacity="0.55"/><path d="M519.5,75.5 Q509.2,66.9 500.6,56.6" stroke="#6c6c6c" stroke-width="0.7" fill="none" opacity="0.55"/><path d="M564.0,69.9 Q569.7,56.1 578.5,44.0" stroke="#a4a4a4" stroke-width="0.7" fill="none" opacity="0.55"/><path d="M517.9,78.5 Q503.4,65.4 487.9,53.4" stroke="#6c6c6c" stroke-width="0.7" fill="none" opacity="0.55"/><path d="M525.9,69.3 Q516.6,58.3 510.9,44.9" stroke="#989898" stroke-width="0.7" fill="none" opacity="0.55"/><path d="M586.1,92.2 Q601.8,87.4 618.0,84.4" stroke="#8e8e8e" stroke-width="0.7" fill="none" opacity="0.55"/><path d="M522.7,71.9 Q513.1,61.2 505.1,49.2" stroke="#989898" stroke-width="0.7" fill="none" opacity="0.55"/><path d="M539.0,65.3 Q537.0,51.7 534.0,38.4" stroke="#8e8e8e" stroke-width="0.7" fill="none" opacity="0.55"/><path d="M584.7,83.2 Q594.2,80.0 602.7,74.4" stroke="#6c6c6c" stroke-width="0.7" fill="none" opacity="0.55"/><path d="M591.5,96.7 Q600.9,94.6 610.6,94.5" stroke="#6c6c6c" stroke-width="0.7" fill="none" opacity="0.55"/><path d="M546.7,67.1 Q545.5,51.2 547.3,35.4" stroke="#b0b0b0" stroke-width="0.7" fill="none" opacity="0.55"/><path d="M540.4,65.7 Q538.7,48.1 535.0,30.8" stroke="#b0b0b0" stroke-width="0.7" fill="none" opacity="0.55"/><path d="M561.4,72.3 Q566.9,60.6 573.3,49.3" stroke="#8e8e8e" stroke-width="0.7" fill="none" opacity="0.55"/><path d="M526.5,71.7 Q517.8,57.8 508.8,44.1" stroke="#8e8e8e" stroke-width="0.7" fill="none" opacity="0.55"/><path d="M582.3,83.3 Q594.3,79.6 604.3,71.9" stroke="#6c6c6c" stroke-width="0.7" fill="none" opacity="0.55"/><path d="M572.3,77.8 Q582.3,68.1 592.8,59.0" stroke="#b8b8b8" stroke-width="0.7" fill="none" opacity="0.55"/><path d="M503.4,90.6 Q485.1,84.0 465.9,80.6" stroke="#a4a4a4" stroke-width="0.7" fill="none" opacity="0.55"/><path d="M553.3,67.4 Q553.9,52.6 559.4,38.6" stroke="#8e8e8e" stroke-width="0.7" fill="none" opacity="0.55"/><path d="M550.7,68.3 Q551.3,54.2 554.5,40.5" stroke="#b0b0b0" stroke-width="0.7" fill="none" opacity="0.55"/><path d="M526.8,71.2 Q517.5,61.2 512.6,48.4" stroke="#b8b8b8" stroke-width="0.7" fill="none" opacity="0.55"/><path d="M538.7,67.8 Q537.2,52.1 532.1,37.1" stroke="#b8b8b8" stroke-width="0.7" fill="none" opacity="0.55"/><path d="M518.0,82.0 Q501.4,68.1 482.9,56.8" stroke="#a4a4a4" stroke-width="0.7" fill="none" opacity="0.55"/><path d="M512.3,85.8 Q504.7,80.3 495.7,77.8" stroke="#b8b8b8" stroke-width="0.7" fill="none" opacity="0.55"/><path d="M526.3,72.4 Q514.7,57.4 505.2,40.9" stroke="#b8b8b8" stroke-width="0.7" fill="none" opacity="0.55"/><path d="M533.6,66.6 Q529.7,48.4 521.4,31.6" stroke="#b8b8b8" stroke-width="0.7" fill="none" opacity="0.55"/><path d="M593.1,98.2 Q599.1,98.9 605.0,97.2" stroke="#b8b8b8" stroke-width="0.7" fill="none" opacity="0.55"/><path d="M539.8,69.8 Q539.3,54.6 534.2,40.1" stroke="#b8b8b8" stroke-width="0.7" fill="none" opacity="0.55"/><path d="M506.0,94.2 Q483.6,92.0 461.8,85.5" stroke="#8e8e8e" stroke-width="0.7" fill="none" opacity="0.55"/><path d="M541.1,66.5 Q538.0,50.2 536.6,33.7" stroke="#8e8e8e" stroke-width="0.7" fill="none" opacity="0.55"/><path d="M519.3,78.8 Q506.2,70.4 496.0,58.5" stroke="#b8b8b8" stroke-width="0.7" fill="none" opacity="0.55"/><path d="M529.6,69.8 Q521.5,56.2 515.2,41.7" stroke="#b8b8b8" stroke-width="0.7" fill="none" opacity="0.55"/><path d="M520.0,71.8 Q510.1,61.0 500.7,49.6" stroke="#b8b8b8" stroke-width="0.7" fill="none" opacity="0.55"/><path d="M540.6,67.6 Q536.2,48.5 534.6,28.8" stroke="#b8b8b8" stroke-width="0.7" fill="none" opacity="0.55"/><path d="M539.6,70.8 Q536.3,49.5 530.9,28.7" stroke="#a4a4a4" stroke-width="0.7" fill="none" opacity="0.55"/><path d="M590.7,92.6 Q599.9,93.4 608.2,88.9" stroke="#8e8e8e" stroke-width="0.7" fill="none" opacity="0.55"/><path d="M584.0,83.1 Q596.6,73.6 611.8,69.3" stroke="#8e8e8e" stroke-width="0.7" fill="none" opacity="0.55"/><path d="M541.6,68.6 Q541.4,49.9 536.7,31.8" stroke="#989898" stroke-width="0.7" fill="none" opacity="0.55"/><path d="M561.6,69.9 Q565.5,59.7 571.2,50.3" stroke="#6c6c6c" stroke-width="0.7" fill="none" opacity="0.55"/><path d="M580.0,85.6 Q595.6,80.9 609.1,71.5" stroke="#8e8e8e" stroke-width="0.7" fill="none" opacity="0.55"/><path d="M589.7,88.8 Q600.4,87.3 610.2,82.6" stroke="#b8b8b8" stroke-width="0.7" fill="none" opacity="0.55"/><path d="M500.8,92.5 Q477.4,90.7 455.2,82.9" stroke="#6c6c6c" stroke-width="0.7" fill="none" opacity="0.55"/><path d="M507.6,93.4 Q484.4,88.9 461.4,83.1" stroke="#989898" stroke-width="0.7" fill="none" opacity="0.55"/><path d="M537.8,65.5 Q536.4,51.1 531.5,37.5" stroke="#8e8e8e" stroke-width="0.7" fill="none" opacity="0.55"/><path d="M582.5,81.8 Q591.5,78.0 599.5,72.4" stroke="#b8b8b8" stroke-width="0.7" fill="none" opacity="0.55"/><path d="M505.8,95.9 Q485.2,94.9 465.2,89.7" stroke="#989898" stroke-width="0.7" fill="none" opacity="0.55"/><path d="M534.0,66.4 Q527.6,50.5 523.0,33.9" stroke="#b0b0b0" stroke-width="0.7" fill="none" opacity="0.55"/><path d="M591.1,101.1 Q597.8,98.4 604.7,100.9" stroke="#a4a4a4" stroke-width="0.7" fill="none" opacity="0.55"/><path d="M555.5,69.7 Q561.6,57.6 563.1,44.0" stroke="#a4a4a4" stroke-width="0.7" fill="none" opacity="0.55"/><path d="M571.3,74.2 Q579.5,66.4 586.5,57.5" stroke="#989898" stroke-width="0.7" fill="none" opacity="0.55"/><path d="M562.3,69.1 Q569.5,55.7 575.8,41.9" stroke="#a4a4a4" stroke-width="0.7" fill="none" opacity="0.55"/><path d="M579.2,84.6 Q591.3,76.5 604.9,71.1" stroke="#b8b8b8" stroke-width="0.7" fill="none" opacity="0.55"/><path d="M578.7,80.0 Q589.3,72.3 600.5,65.4" stroke="#8e8e8e" stroke-width="0.7" fill="none" opacity="0.55"/><path d="M573.4,73.2 Q579.8,68.4 584.3,61.8" stroke="#b8b8b8" stroke-width="0.7" fill="none" opacity="0.55"/><path d="M544.9,66.7 Q546.9,52.0 544.0,37.4" stroke="#a4a4a4" stroke-width="0.7" fill="none" opacity="0.55"/><path d="M542.1,71.1 Q541.0,50.7 537.1,30.6" stroke="#a4a4a4" stroke-width="0.7" fill="none" opacity="0.55"/><path d="M591.3,94.8 Q599.8,92.5 608.7,92.1" stroke="#b0b0b0" stroke-width="0.7" fill="none" opacity="0.55"/><path d="M503.1,89.0 Q485.1,81.0 465.5,77.6" stroke="#989898" stroke-width="0.7" fill="none" opacity="0.55"/><path d="M518.3,79.0 Q503.3,65.6 487.4,53.2" stroke="#b8b8b8" stroke-width="0.7" fill="none" opacity="0.55"/><path d="M538.8,65.1 Q533.9,53.2 533.9,40.3" stroke="#b0b0b0" stroke-width="0.7" fill="none" opacity="0.55"/><path d="M587.1,94.6 Q603.3,92.1 619.3,88.7" stroke="#a4a4a4" stroke-width="0.7" fill="none" opacity="0.55"/><path d="M579.6,85.2 Q593.9,75.1 610.6,69.7" stroke="#b8b8b8" stroke-width="0.7" fill="none" opacity="0.55"/><path d="M564.3,67.7 Q567.6,59.4 572.7,52.1" stroke="#b0b0b0" stroke-width="0.7" fill="none" opacity="0.55"/><path d="M575.0,81.5 Q586.2,71.1 599.8,63.9" stroke="#989898" stroke-width="0.7" fill="none" opacity="0.55"/><path d="M560.8,68.0 Q568.6,55.0 572.9,40.4" stroke="#b0b0b0" stroke-width="0.7" fill="none" opacity="0.55"/><path d="M498.8,98.7 Q477.1,94.5 454.9,95.7" stroke="#b8b8b8" stroke-width="0.7" fill="none" opacity="0.55"/><path d="M575.6,82.3 Q587.7,74.1 599.9,66.3" stroke="#8e8e8e" stroke-width="0.7" fill="none" opacity="0.55"/><path d="M552.5,66.1 Q556.8,54.2 556.9,41.4" stroke="#989898" stroke-width="0.7" fill="none" opacity="0.55"/><path d="M572.3,79.4 Q580.6,70.6 590.6,63.6" stroke="#989898" stroke-width="0.7" fill="none" opacity="0.55"/><path d="M545.6,70.8 Q545.1,53.3 545.2,35.7" stroke="#b8b8b8" stroke-width="0.7" fill="none" opacity="0.55"/><path d="M547.9,65.6 Q549.5,49.5 549.5,33.4" stroke="#6c6c6c" stroke-width="0.7" fill="none" opacity="0.55"/><path d="M549.5,70.3 Q549.0,50.2 553.8,30.5" stroke="#b0b0b0" stroke-width="0.7" fill="none" opacity="0.55"/><path d="M552.6,67.6 Q556.6,53.1 558.3,38.2" stroke="#b0b0b0" stroke-width="0.7" fill="none" opacity="0.55"/><path d="M580.0,80.9 Q590.3,77.5 598.1,69.7" stroke="#a4a4a4" stroke-width="0.7" fill="none" opacity="0.55"/><path d="M554.8,65.2 Q560.3,52.7 561.2,38.9" stroke="#b0b0b0" stroke-width="0.7" fill="none" opacity="0.55"/><path d="M575.0,82.8 Q587.5,77.3 597.5,67.9" stroke="#b8b8b8" stroke-width="0.7" fill="none" opacity="0.55"/><path d="M526.9,73.0 Q518.5,57.0 507.0,42.9" stroke="#a4a4a4" stroke-width="0.7" fill="none" opacity="0.55"/><path d="M554.9,68.1 Q559.3,55.1 561.9,41.6" stroke="#6c6c6c" stroke-width="0.7" fill="none" opacity="0.55"/><path d="M575.8,74.6 Q583.5,64.8 594.0,58.0" stroke="#a4a4a4" stroke-width="0.7" fill="none" opacity="0.55"/><path d="M549.4,67.8 Q549.7,49.0 553.0,30.5" stroke="#989898" stroke-width="0.7" fill="none" opacity="0.55"/><path d="M566.1,71.3 Q571.5,61.2 578.6,52.2" stroke="#b8b8b8" stroke-width="0.7" fill="none" opacity="0.55"/><path d="M567.1,75.5 Q576.6,64.7 584.9,53.0" stroke="#8e8e8e" stroke-width="0.7" fill="none" opacity="0.55"/><path d="M586.4,86.5 Q599.9,80.4 614.1,75.9" stroke="#989898" stroke-width="0.7" fill="none" opacity="0.55"/><path d="M594.0,100.9 Q596.1,100.5 598.3,100.8" stroke="#989898" stroke-width="0.7" fill="none" opacity="0.55"/><path d="M539.3,71.2 Q535.0,54.4 532.0,37.3" stroke="#b0b0b0" stroke-width="0.7" fill="none" opacity="0.55"/><path d="M529.4,66.7 Q524.1,54.7 518.3,43.0" stroke="#b0b0b0" stroke-width="0.7" fill="none" opacity="0.55"/><path d="M567.2,75.9 Q576.3,65.5 584.6,54.5" stroke="#b0b0b0" stroke-width="0.7" fill="none" opacity="0.55"/><path d="M573.6,73.1 Q580.7,66.2 587.2,58.8" stroke="#8e8e8e" stroke-width="0.7" fill="none" opacity="0.55"/><path d="M586.9,93.8 Q602.9,92.7 618.2,87.5" stroke="#b8b8b8" stroke-width="0.7" fill="none" opacity="0.55"/><path d="M561.8,72.2 Q566.0,61.0 573.1,51.2" stroke="#b8b8b8" stroke-width="0.7" fill="none" opacity="0.55"/><path d="M497.8,98.0 Q476.3,98.3 455.1,94.4" stroke="#989898" stroke-width="0.7" fill="none" opacity="0.55"/><path d="M568.9,75.0 Q580.0,65.1 588.0,52.5" stroke="#6c6c6c" stroke-width="0.7" fill="none" opacity="0.55"/><path d="M565.9,73.6 Q576.9,62.3 583.9,48.0" stroke="#8e8e8e" stroke-width="0.7" fill="none" opacity="0.55"/><path d="M529.1,70.4 Q520.3,55.9 513.1,40.5" stroke="#6c6c6c" stroke-width="0.7" fill="none" opacity="0.55"/><path d="M503.6,92.2 Q485.1,89.0 467.1,83.8" stroke="#b0b0b0" stroke-width="0.7" fill="none" opacity="0.55"/><path d="M570.2,75.9 Q578.8,68.4 585.6,59.2" stroke="#8e8e8e" stroke-width="0.7" fill="none" opacity="0.55"/><path d="M524.2,70.4 Q513.6,56.2 504.1,41.2" stroke="#a4a4a4" stroke-width="0.7" fill="none" opacity="0.55"/><path d="M519.4,74.8 Q508.8,63.1 497.4,52.2" stroke="#6c6c6c" stroke-width="0.7" fill="none" opacity="0.55"/><path d="M515.2,76.9 Q500.5,68.3 489.0,55.5" stroke="#989898" stroke-width="0.7" fill="none" opacity="0.55"/><path d="M507.1,92.0 Q484.3,82.9 459.8,79.8" stroke="#a4a4a4" stroke-width="0.7" fill="none" opacity="0.55"/><path d="M546.0,65.1 Q545.4,51.1 546.0,37.0" stroke="#b0b0b0" stroke-width="0.7" fill="none" opacity="0.55"/><path d="M525.2,71.9 Q518.1,59.4 509.0,48.4" stroke="#a4a4a4" stroke-width="0.7" fill="none" opacity="0.55"/><path d="M590.7,97.5 Q602.6,98.6 614.1,95.1" stroke="#b8b8b8" stroke-width="0.7" fill="none" opacity="0.55"/><path d="M502.2,91.1 Q482.9,89.4 464.8,81.8" stroke="#8e8e8e" stroke-width="0.7" fill="none" opacity="0.55"/><path d="M566.8,72.4 Q573.6,65.9 577.5,57.2" stroke="#a4a4a4" stroke-width="0.7" fill="none" opacity="0.55"/><path d="M543.6,68.3 Q540.8,54.2 541.6,39.7" stroke="#8e8e8e" stroke-width="0.7" fill="none" opacity="0.55"/><path d="M592.3,93.9 Q603.2,93.3 613.8,90.1" stroke="#8e8e8e" stroke-width="0.7" fill="none" opacity="0.55"/><path d="M560.3,70.0 Q566.3,58.8 570.7,47.0" stroke="#b8b8b8" stroke-width="0.7" fill="none" opacity="0.55"/><path d="M569.2,70.6 Q576.7,60.0 584.6,49.6" stroke="#a4a4a4" stroke-width="0.7" fill="none" opacity="0.55"/><path d="M555.4,70.3 Q557.4,55.8 563.7,42.5" stroke="#b0b0b0" stroke-width="0.7" fill="none" opacity="0.55"/><path d="M553.5,68.4 Q555.9,54.5 559.7,40.8" stroke="#989898" stroke-width="0.7" fill="none" opacity="0.55"/><path d="M505.2,91.5 Q480.9,85.9 456.8,79.1" stroke="#6c6c6c" stroke-width="0.7" fill="none" opacity="0.55"/><path d="M499.3,100.8 Q479.9,102.1 460.6,99.8" stroke="#b0b0b0" stroke-width="0.7" fill="none" opacity="0.55"/><path d="M534.4,71.0 Q525.7,52.3 519.9,32.3" stroke="#8e8e8e" stroke-width="0.7" fill="none" opacity="0.55"/><path d="M523.0,75.0 Q510.4,61.4 499.0,46.8" stroke="#989898" stroke-width="0.7" fill="none" opacity="0.55"/><path d="M586.8,93.8 Q602.6,87.8 619.7,87.3" stroke="#a4a4a4" stroke-width="0.7" fill="none" opacity="0.55"/><path d="M500.0,94.7 Q483.1,89.0 465.1,89.1" stroke="#b8b8b8" stroke-width="0.7" fill="none" opacity="0.55"/><path d="M549.8,67.4 Q549.0,49.2 553.7,31.5" stroke="#6c6c6c" stroke-width="0.7" fill="none" opacity="0.55"/></g>
<g filter="url(#mb)">
<path d="M512,96 C513,86 522,78 537,72.5 C550,70.5 566,72 575,80 C579,86 578,94 574,99 L560,100 C560,90 552,84 540,84 C528,85 520,92 518,99 Z" fill="#262626"/>
<path d="M518,99 C520,90 530,84 541,84 C553,84 560,90 561,100 Z" fill="#444444"/>
<path d="M527,96 C530,90 536,88 542,89" stroke="#2e2e2e" stroke-width="2" fill="none"/>
</g>
<g filter="url(#mb)">
<path d="M446.7,116.6 C447.6,115.2 448.9,111.0 452.0,108.0 C455.1,105.0 458.7,100.3 465.0,98.3 C471.3,96.3 481.7,96.6 490.0,95.8 C498.3,95.0 508.6,93.6 515.0,93.3 C521.4,93.0 523.5,93.4 528.2,94.2 C532.9,95.0 538.5,97.2 543.2,98.3 C547.9,99.3 552.6,100.5 556.5,100.5 C560.4,100.5 564.2,97.4 566.5,98.3 C568.8,99.2 568.9,103.2 570.0,106.0 C571.1,108.8 572.5,112.5 573.2,115.0 C573.9,117.5 574.5,119.3 574.0,120.8 C573.5,122.3 572.2,123.6 569.9,124.1 C567.6,124.6 563.6,124.3 560.0,124.0 C556.4,123.7 554.3,123.6 548.2,122.5 C542.1,121.4 531.5,118.6 523.2,117.5 C514.9,116.4 506.6,116.1 498.3,115.8 C490.0,115.5 480.2,115.5 473.3,115.8 C466.4,116.1 461.0,117.4 456.6,117.5 C452.2,117.6 448.4,116.8 446.7,116.6 Z" fill="#ee831b"/>
<path d="M470,104 C490,101 510,99 530,99" stroke="#f39040" stroke-width="3" fill="none" filter="url(#mb1)"/>
<path d="M518,99.5 C530,99 542,102 556,106" stroke="#f5ae72" stroke-width="4.5" fill="none" filter="url(#mb1)"/>
<path d="M533.3,119.7 h1.8" stroke="#a0561a" stroke-width="0.6"/><path d="M540.4,118.9 h2.2" stroke="#a0561a" stroke-width="0.6"/><path d="M484.3,119.2 h1.3" stroke="#a0561a" stroke-width="0.6"/><path d="M485.1,116.2 h1.0" stroke="#a0561a" stroke-width="0.6"/><path d="M486.8,115.1 h1.9" stroke="#a0561a" stroke-width="0.6"/><path d="M489.8,122.4 h2.7" stroke="#a0561a" stroke-width="0.6"/><path d="M525.3,117.6 h1.6" stroke="#a0561a" stroke-width="0.6"/><path d="M571.5,111.6 h1.6" stroke="#a0561a" stroke-width="0.6"/><path d="M500.5,121.3 h2.0" stroke="#a0561a" stroke-width="0.6"/><path d="M518.2,115.2 h2.8" stroke="#a0561a" stroke-width="0.6"/><path d="M503.9,120.3 h2.4" stroke="#a0561a" stroke-width="0.6"/><path d="M521.7,114.8 h1.9" stroke="#a0561a" stroke-width="0.6"/><path d="M522.1,114.1 h2.2" stroke="#a0561a" stroke-width="0.6"/><path d="M518.2,113.9 h2.5" stroke="#a0561a" stroke-width="0.6"/>
<path d="M560,108.0 L573.8,107.9" stroke="#ee831b" stroke-width="1.2"/>
<path d="M560,110.2 L575.5,110.1" stroke="#ee831b" stroke-width="1.2"/>
<path d="M560,112.4 L573.5,113.2" stroke="#ee831b" stroke-width="1.2"/>
<path d="M560,114.6 L575.9,115.2" stroke="#ee831b" stroke-width="1.2"/>
<path d="M560,116.8 L573.6,117.1" stroke="#ee831b" stroke-width="1.2"/>
<path d="M560,119.0 L575.0,118.6" stroke="#ee831b" stroke-width="1.2"/>
<path d="M560,121.2 L574.9,122.1" stroke="#ee831b" stroke-width="1.2"/>
<path d="M560,123.4 L574.6,123.7" stroke="#ee831b" stroke-width="1.2"/>
<path d="M520,91 h3" stroke="#e8801c" stroke-width="1"/>
<path d="M530,89 h2" stroke="#e8801c" stroke-width="1"/>
<path d="M506,93 h3" stroke="#e8801c" stroke-width="1"/>
<path d="M476,96 h2" stroke="#e8801c" stroke-width="1"/>
<path d="M548,96 h3" stroke="#e8801c" stroke-width="1"/>
<path d="M455,108 h2" stroke="#e8801c" stroke-width="1"/>
</g>
</svg>
<svg width="841" height="781" viewBox="0 0 841 781" style="position:absolute;left:0;top:0">
<g fill="#bababa" stroke="#4a4a4a" stroke-width="1.7">
<rect x="101.05" y="161.05" width="234.5" height="32.3"/>
<rect x="420.85" y="160.15" width="234.2" height="31.8"/>
<rect x="12.95" y="204.65" width="32.3" height="234.5"/>
<rect x="12.95" y="460.65" width="32.3" height="234.2"/>
</g></svg>
<div class="lab" style="left:161.5px;top:163px;font-size:28.8px;-webkit-text-stroke:0.35px #111;">R Fusiform</div>
<div class="lab" style="left:504.5px;top:161.5px;font-size:28.8px;-webkit-text-stroke:0.35px #111;">L ILF</div>
<div class="lab" style="left:28.8px;top:321px;font-size:30px;-webkit-text-stroke:0.35px #111;transform:translate(-50%,-50%) rotate(-90deg);">ANT</div>
<div class="lab" style="left:28.8px;top:577px;font-size:30px;-webkit-text-stroke:0.35px #111;transform:translate(-50%,-50%) rotate(-90deg);">BNT</div>
<svg width="841" height="781" viewBox="0 0 841 781">
<path d="M106.5,208.1 V425.8 H381.6" fill="none" stroke="#a3a3a3" stroke-width="1.4"/>
<path d="M106.5,425.8 h2.6" stroke="#a3a3a3" stroke-width="0.9"/>
<text x="102.5" y="429.0" class="yl">0.36</text>
<path d="M106.5,401.6 h2.6" stroke="#a3a3a3" stroke-width="0.9"/>
<text x="102.5" y="404.8" class="yl">0.38</text>
<path d="M106.5,377.4 h2.6" stroke="#a3a3a3" stroke-width="0.9"/>
<text x="102.5" y="380.6" class="yl">0.4</text>
<path d="M106.5,353.2 h2.6" stroke="#a3a3a3" stroke-width="0.9"/>
<text x="102.5" y="356.4" class="yl">0.42</text>
<path d="M106.5,329.0 h2.6" stroke="#a3a3a3" stroke-width="0.9"/>
<text x="102.5" y="332.2" class="yl">0.44</text>
<path d="M106.5,304.9 h2.6" stroke="#a3a3a3" stroke-width="0.9"/>
<text x="102.5" y="308.1" class="yl">0.46</text>
<path d="M106.5,280.7 h2.6" stroke="#a3a3a3" stroke-width="0.9"/>
<text x="102.5" y="283.9" class="yl">0.48</text>
<path d="M106.5,256.5 h2.6" stroke="#a3a3a3" stroke-width="0.9"/>
<text x="102.5" y="259.7" class="yl">0.5</text>
<path d="M106.5,232.3 h2.6" stroke="#a3a3a3" stroke-width="0.9"/>
<text x="102.5" y="235.5" class="yl">0.52</text>
<path d="M106.5,208.1 h2.6" stroke="#a3a3a3" stroke-width="0.9"/>
<text x="102.5" y="211.3" class="yl">0.54</text>
<path d="M122.3,425.8 v-2.6" stroke="#a3a3a3" stroke-width="0.9"/>
<text x="122.3" y="437.6" class="xl">-4</text>
<path d="M161.3,425.8 v-2.6" stroke="#a3a3a3" stroke-width="0.9"/>
<text x="161.3" y="437.6" class="xl">-3</text>
<path d="M200.2,425.8 v-2.6" stroke="#a3a3a3" stroke-width="0.9"/>
<text x="200.2" y="437.6" class="xl">-2</text>
<path d="M239.2,425.8 v-2.6" stroke="#a3a3a3" stroke-width="0.9"/>
<text x="239.2" y="437.6" class="xl">-1</text>
<path d="M278.2,425.8 v-2.6" stroke="#a3a3a3" stroke-width="0.9"/>
<text x="278.2" y="437.6" class="xl">0</text>
<path d="M317.1,425.8 v-2.6" stroke="#a3a3a3" stroke-width="0.9"/>
<text x="317.1" y="437.6" class="xl">1</text>
<path d="M356.1,425.8 v-2.6" stroke="#a3a3a3" stroke-width="0.9"/>
<text x="356.1" y="437.6" class="xl">2</text>
<path d="M122.4,333.4 L373.5,285.9" stroke="#5a1787" stroke-width="2"/>
<circle cx="122.9" cy="310.8" r="3.25" fill="#4a0a72"/>
<circle cx="158.4" cy="283.0" r="3.25" fill="#4a0a72"/>
<circle cx="158.4" cy="356.5" r="3.25" fill="#4a0a72"/>
<circle cx="158.4" cy="363.3" r="3.25" fill="#4a0a72"/>
<circle cx="194.3" cy="333.2" r="3.25" fill="#4a0a72"/>
<circle cx="229.9" cy="278.9" r="3.25" fill="#4a0a72"/>
<circle cx="229.9" cy="309.9" r="3.25" fill="#4a0a72"/>
<circle cx="229.9" cy="355.6" r="3.25" fill="#4a0a72"/>
<circle cx="266.0" cy="263.3" r="3.25" fill="#4a0a72"/>
<circle cx="266.0" cy="303.6" r="3.25" fill="#4a0a72"/>
<circle cx="266.0" cy="309.5" r="3.25" fill="#4a0a72"/>
<circle cx="301.3" cy="288.8" r="3.25" fill="#4a0a72"/>
<circle cx="301.3" cy="337.3" r="3.25" fill="#4a0a72"/>
<circle cx="337.1" cy="297.4" r="3.25" fill="#4a0a72"/>
<circle cx="373.0" cy="277.6" r="3.25" fill="#4a0a72"/>
<text x="115.5" y="220.0" class="rl">r=.53*</text>
<path d="M414.8,210.5 V422.6 H684.7" fill="none" stroke="#a3a3a3" stroke-width="1.4"/>
<path d="M414.8,422.6 h2.6" stroke="#a3a3a3" stroke-width="0.9"/>
<text x="410.8" y="425.8" class="yl">0.36</text>
<path d="M414.8,399.0 h2.6" stroke="#a3a3a3" stroke-width="0.9"/>
<text x="410.8" y="402.2" class="yl">0.38</text>
<path d="M414.8,375.5 h2.6" stroke="#a3a3a3" stroke-width="0.9"/>
<text x="410.8" y="378.7" class="yl">0.4</text>
<path d="M414.8,351.9 h2.6" stroke="#a3a3a3" stroke-width="0.9"/>
<text x="410.8" y="355.1" class="yl">0.42</text>
<path d="M414.8,328.3 h2.6" stroke="#a3a3a3" stroke-width="0.9"/>
<text x="410.8" y="331.5" class="yl">0.44</text>
<path d="M414.8,304.8 h2.6" stroke="#a3a3a3" stroke-width="0.9"/>
<text x="410.8" y="308.0" class="yl">0.46</text>
<path d="M414.8,281.2 h2.6" stroke="#a3a3a3" stroke-width="0.9"/>
<text x="410.8" y="284.4" class="yl">0.48</text>
<path d="M414.8,257.6 h2.6" stroke="#a3a3a3" stroke-width="0.9"/>
<text x="410.8" y="260.8" class="yl">0.5</text>
<path d="M414.8,234.1 h2.6" stroke="#a3a3a3" stroke-width="0.9"/>
<text x="410.8" y="237.3" class="yl">0.52</text>
<path d="M414.8,210.5 h2.6" stroke="#a3a3a3" stroke-width="0.9"/>
<text x="410.8" y="213.7" class="yl">0.54</text>
<path d="M430.3,422.6 v-2.6" stroke="#a3a3a3" stroke-width="0.9"/>
<text x="430.3" y="434.4" class="xl">-4</text>
<path d="M468.2,422.6 v-2.6" stroke="#a3a3a3" stroke-width="0.9"/>
<text x="468.2" y="434.4" class="xl">-3</text>
<path d="M506.2,422.6 v-2.6" stroke="#a3a3a3" stroke-width="0.9"/>
<text x="506.2" y="434.4" class="xl">-2</text>
<path d="M544.1,422.6 v-2.6" stroke="#a3a3a3" stroke-width="0.9"/>
<text x="544.1" y="434.4" class="xl">-1</text>
<path d="M582.1,422.6 v-2.6" stroke="#a3a3a3" stroke-width="0.9"/>
<text x="582.1" y="434.4" class="xl">0</text>
<path d="M620.0,422.6 v-2.6" stroke="#a3a3a3" stroke-width="0.9"/>
<text x="620.0" y="434.4" class="xl">1</text>
<path d="M658.0,422.6 v-2.6" stroke="#a3a3a3" stroke-width="0.9"/>
<text x="658.0" y="434.4" class="xl">2</text>
<path d="M430.6,332.7 L675.1,286.2" stroke="#5a1787" stroke-width="2"/>
<circle cx="431.1" cy="310.6" r="3.25" fill="#4a0a72"/>
<circle cx="465.7" cy="283.4" r="3.25" fill="#4a0a72"/>
<circle cx="465.7" cy="355.1" r="3.25" fill="#4a0a72"/>
<circle cx="465.7" cy="362.1" r="3.25" fill="#4a0a72"/>
<circle cx="500.7" cy="332.5" r="3.25" fill="#4a0a72"/>
<circle cx="535.1" cy="279.4" r="3.25" fill="#4a0a72"/>
<circle cx="535.1" cy="309.7" r="3.25" fill="#4a0a72"/>
<circle cx="535.1" cy="354.2" r="3.25" fill="#4a0a72"/>
<circle cx="570.3" cy="264.4" r="3.25" fill="#4a0a72"/>
<circle cx="570.3" cy="303.6" r="3.25" fill="#4a0a72"/>
<circle cx="570.3" cy="309.2" r="3.25" fill="#4a0a72"/>
<circle cx="604.8" cy="288.9" r="3.25" fill="#4a0a72"/>
<circle cx="604.8" cy="336.4" r="3.25" fill="#4a0a72"/>
<circle cx="639.8" cy="297.4" r="3.25" fill="#4a0a72"/>
<circle cx="674.9" cy="278.2" r="3.25" fill="#4a0a72"/>
<text x="427.0" y="225.9" class="rl">r=.49#</text>
<path d="M106.5,465.7 V679.2 H378.2" fill="none" stroke="#a3a3a3" stroke-width="1.4"/>
<path d="M106.5,679.2 h2.6" stroke="#a3a3a3" stroke-width="0.9"/>
<text x="102.5" y="682.4" class="yl">0.24</text>
<path d="M106.5,655.5 h2.6" stroke="#a3a3a3" stroke-width="0.9"/>
<text x="102.5" y="658.7" class="yl">0.26</text>
<path d="M106.5,631.8 h2.6" stroke="#a3a3a3" stroke-width="0.9"/>
<text x="102.5" y="635.0" class="yl">0.28</text>
<path d="M106.5,608.0 h2.6" stroke="#a3a3a3" stroke-width="0.9"/>
<text x="102.5" y="611.2" class="yl">0.3</text>
<path d="M106.5,584.3 h2.6" stroke="#a3a3a3" stroke-width="0.9"/>
<text x="102.5" y="587.5" class="yl">0.32</text>
<path d="M106.5,560.6 h2.6" stroke="#a3a3a3" stroke-width="0.9"/>
<text x="102.5" y="563.8" class="yl">0.34</text>
<path d="M106.5,536.9 h2.6" stroke="#a3a3a3" stroke-width="0.9"/>
<text x="102.5" y="540.1" class="yl">0.36</text>
<path d="M106.5,513.1 h2.6" stroke="#a3a3a3" stroke-width="0.9"/>
<text x="102.5" y="516.3" class="yl">0.38</text>
<path d="M106.5,489.4 h2.6" stroke="#a3a3a3" stroke-width="0.9"/>
<text x="102.5" y="492.6" class="yl">0.4</text>
<path d="M106.5,465.7 h2.6" stroke="#a3a3a3" stroke-width="0.9"/>
<text x="102.5" y="468.9" class="yl">0.42</text>
<path d="M114.0,679.2 v-2.6" stroke="#a3a3a3" stroke-width="0.9"/>
<text x="114.0" y="691.0" class="xl">-4</text>
<path d="M150.6,679.2 v-2.6" stroke="#a3a3a3" stroke-width="0.9"/>
<text x="150.6" y="691.0" class="xl">-3</text>
<path d="M187.2,679.2 v-2.6" stroke="#a3a3a3" stroke-width="0.9"/>
<text x="187.2" y="691.0" class="xl">-2</text>
<path d="M223.8,679.2 v-2.6" stroke="#a3a3a3" stroke-width="0.9"/>
<text x="223.8" y="691.0" class="xl">-1</text>
<path d="M260.4,679.2 v-2.6" stroke="#a3a3a3" stroke-width="0.9"/>
<text x="260.4" y="691.0" class="xl">0</text>
<path d="M297.0,679.2 v-2.6" stroke="#a3a3a3" stroke-width="0.9"/>
<text x="297.0" y="691.0" class="xl">1</text>
<path d="M333.6,679.2 v-2.6" stroke="#a3a3a3" stroke-width="0.9"/>
<text x="333.6" y="691.0" class="xl">2</text>
<path d="M370.2,679.2 v-2.6" stroke="#a3a3a3" stroke-width="0.9"/>
<text x="370.2" y="691.0" class="xl">3</text>
<path d="M119.0,623.0 L366.9,546.1" stroke="#5a1787" stroke-width="2"/>
<circle cx="119.3" cy="616.0" r="3.25" fill="#4a0a72"/>
<circle cx="133.0" cy="618.5" r="3.25" fill="#4a0a72"/>
<circle cx="174.2" cy="602.9" r="3.25" fill="#4a0a72"/>
<circle cx="174.2" cy="613.0" r="3.25" fill="#4a0a72"/>
<circle cx="174.2" cy="617.1" r="3.25" fill="#4a0a72"/>
<circle cx="187.8" cy="585.0" r="3.25" fill="#4a0a72"/>
<circle cx="215.6" cy="609.2" r="3.25" fill="#4a0a72"/>
<circle cx="242.7" cy="528.2" r="3.25" fill="#4a0a72"/>
<circle cx="256.7" cy="596.6" r="3.25" fill="#4a0a72"/>
<circle cx="270.5" cy="582.8" r="3.25" fill="#4a0a72"/>
<circle cx="270.5" cy="643.3" r="3.25" fill="#4a0a72"/>
<circle cx="297.9" cy="574.4" r="3.25" fill="#4a0a72"/>
<circle cx="311.5" cy="506.5" r="3.25" fill="#4a0a72"/>
<circle cx="339.1" cy="562.2" r="3.25" fill="#4a0a72"/>
<circle cx="352.7" cy="517.4" r="3.25" fill="#4a0a72"/>
<circle cx="366.5" cy="577.5" r="3.25" fill="#4a0a72"/>
<text x="118.5" y="481.2" class="rl">r=.72**</text>
<path d="M414.5,466.9 V680.4 H684.7" fill="none" stroke="#a3a3a3" stroke-width="1.4"/>
<path d="M414.5,680.4 h2.6" stroke="#a3a3a3" stroke-width="0.9"/>
<text x="410.5" y="683.6" class="yl">0.36</text>
<path d="M414.5,656.7 h2.6" stroke="#a3a3a3" stroke-width="0.9"/>
<text x="410.5" y="659.9" class="yl">0.38</text>
<path d="M414.5,633.0 h2.6" stroke="#a3a3a3" stroke-width="0.9"/>
<text x="410.5" y="636.2" class="yl">0.4</text>
<path d="M414.5,609.2 h2.6" stroke="#a3a3a3" stroke-width="0.9"/>
<text x="410.5" y="612.4" class="yl">0.42</text>
<path d="M414.5,585.5 h2.6" stroke="#a3a3a3" stroke-width="0.9"/>
<text x="410.5" y="588.7" class="yl">0.44</text>
<path d="M414.5,561.8 h2.6" stroke="#a3a3a3" stroke-width="0.9"/>
<text x="410.5" y="565.0" class="yl">0.46</text>
<path d="M414.5,538.1 h2.6" stroke="#a3a3a3" stroke-width="0.9"/>
<text x="410.5" y="541.3" class="yl">0.48</text>
<path d="M414.5,514.3 h2.6" stroke="#a3a3a3" stroke-width="0.9"/>
<text x="410.5" y="517.5" class="yl">0.5</text>
<path d="M414.5,490.6 h2.6" stroke="#a3a3a3" stroke-width="0.9"/>
<text x="410.5" y="493.8" class="yl">0.52</text>
<path d="M414.5,466.9 h2.6" stroke="#a3a3a3" stroke-width="0.9"/>
<text x="410.5" y="470.1" class="yl">0.54</text>
<path d="M421.4,680.4 v-2.6" stroke="#a3a3a3" stroke-width="0.9"/>
<text x="421.4" y="692.2" class="xl">-4</text>
<path d="M458.0,680.4 v-2.6" stroke="#a3a3a3" stroke-width="0.9"/>
<text x="458.0" y="692.2" class="xl">-3</text>
<path d="M494.6,680.4 v-2.6" stroke="#a3a3a3" stroke-width="0.9"/>
<text x="494.6" y="692.2" class="xl">-2</text>
<path d="M531.2,680.4 v-2.6" stroke="#a3a3a3" stroke-width="0.9"/>
<text x="531.2" y="692.2" class="xl">-1</text>
<path d="M567.8,680.4 v-2.6" stroke="#a3a3a3" stroke-width="0.9"/>
<text x="567.8" y="692.2" class="xl">0</text>
<path d="M604.4,680.4 v-2.6" stroke="#a3a3a3" stroke-width="0.9"/>
<text x="604.4" y="692.2" class="xl">1</text>
<path d="M640.9,680.4 v-2.6" stroke="#a3a3a3" stroke-width="0.9"/>
<text x="640.9" y="692.2" class="xl">2</text>
<path d="M677.5,680.4 v-2.6" stroke="#a3a3a3" stroke-width="0.9"/>
<text x="677.5" y="692.2" class="xl">3</text>
<path d="M426.3,592.7 L673.7,543.0" stroke="#5a1787" stroke-width="2"/>
<circle cx="426.7" cy="540.7" r="3.25" fill="#4a0a72"/>
<circle cx="440.5" cy="589.6" r="3.25" fill="#4a0a72"/>
<circle cx="481.3" cy="593.6" r="3.25" fill="#4a0a72"/>
<circle cx="481.3" cy="612.4" r="3.25" fill="#4a0a72"/>
<circle cx="481.3" cy="619.2" r="3.25" fill="#4a0a72"/>
<circle cx="495.1" cy="567.8" r="3.25" fill="#4a0a72"/>
<circle cx="522.5" cy="567.0" r="3.25" fill="#4a0a72"/>
<circle cx="549.8" cy="578.3" r="3.25" fill="#4a0a72"/>
<circle cx="563.8" cy="536.6" r="3.25" fill="#4a0a72"/>
<circle cx="577.2" cy="554.3" r="3.25" fill="#4a0a72"/>
<circle cx="577.2" cy="560.9" r="3.25" fill="#4a0a72"/>
<circle cx="604.8" cy="546.1" r="3.25" fill="#4a0a72"/>
<circle cx="618.6" cy="638.5" r="3.25" fill="#4a0a72"/>
<circle cx="646.1" cy="523.3" r="3.25" fill="#4a0a72"/>
<circle cx="659.7" cy="535.3" r="3.25" fill="#4a0a72"/>
<circle cx="673.1" cy="521.5" r="3.25" fill="#4a0a72"/>
<text x="426.5" y="481.2" class="rl">r=.55*</text>
</svg>
<div class="cap j" style="top:698px;">Figure 1. Scatterplots of correlations between visual (Boston Naming Test; BNT) and</div>
<div class="cap j" style="top:723px;">auditory (Auditory Naming Test; ANT) naming change scores (i.e., pre-to-post surgery; x-</div>
<div class="cap" style="top:748px;">axis) and white matter microstructure measured by FA (y-axis). <span class="n"><span class="wavy">*<i>p</i>&lt;.05 **<i>p</i>&lt;.01.</span> <span style="font-size:12px;position:relative;top:-7px;line-height:0;">#</span><i>p</i>&lt;.10</span></div>
</body></html>
